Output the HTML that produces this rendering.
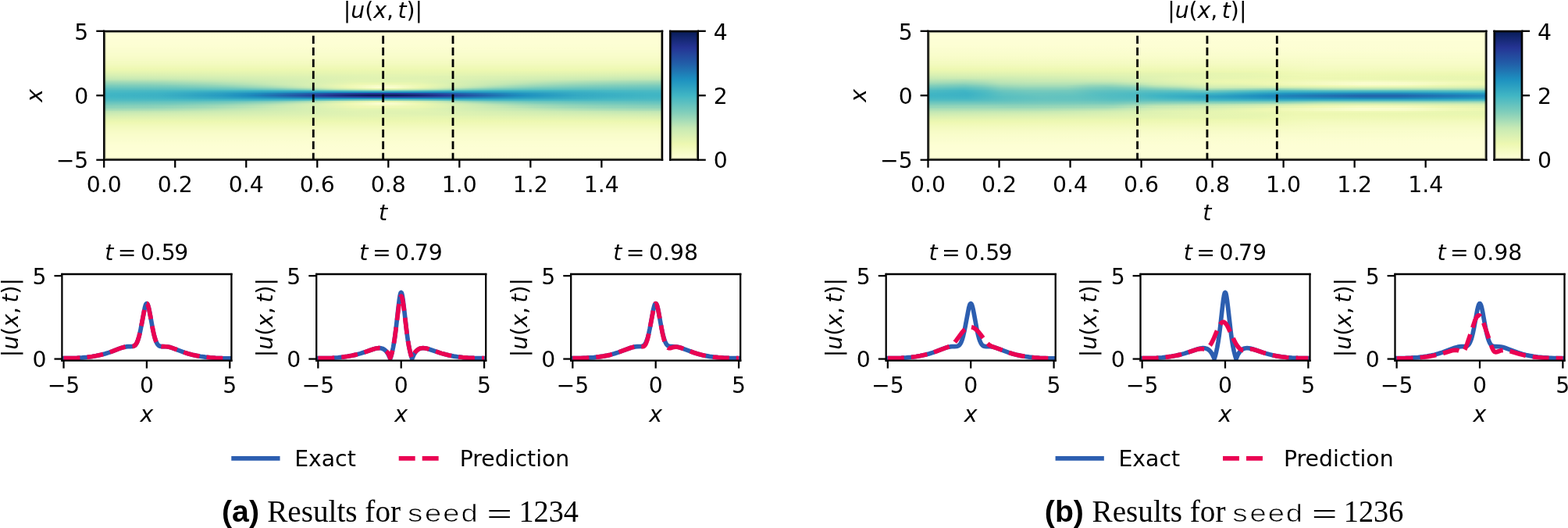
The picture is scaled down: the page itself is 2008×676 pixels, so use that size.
<!DOCTYPE html>
<html><head><meta charset="utf-8"><style>
html,body{margin:0;padding:0;background:#fff;}
body{width:2008px;height:676px;overflow:hidden;}
svg{display:block;}
</style></head><body>
<svg width="2008" height="676" viewBox="0 0 2008 676" version="1.1"><g id="heat"><defs><linearGradient id="h0_0"><stop offset="0" stop-color="#feffd8"/><stop offset="1" stop-color="#fdfed5"/></linearGradient><linearGradient id="h0_1"><stop offset="0" stop-color="#feffd6"/><stop offset="1" stop-color="#fdfed5"/></linearGradient><linearGradient id="h0_5"><stop offset="0" stop-color="#fdfed5"/><stop offset="1" stop-color="#fdfed4"/></linearGradient><linearGradient id="h0_7"><stop offset="0" stop-color="#fdfed4"/><stop offset="1" stop-color="#fdfed4"/></linearGradient><linearGradient id="h0_8"><stop offset="0" stop-color="#fdfed4"/><stop offset="1" stop-color="#fcfed3"/></linearGradient><linearGradient id="h0_9"><stop offset="0" stop-color="#fcfed3"/><stop offset="1" stop-color="#fcfed3"/></linearGradient><linearGradient id="h0_10"><stop offset="0" stop-color="#fcfed1"/><stop offset="1" stop-color="#fcfed1"/></linearGradient><linearGradient id="h0_11"><stop offset="0" stop-color="#fbfdd0"/><stop offset="1" stop-color="#fcfed1"/></linearGradient><linearGradient id="h0_12"><stop offset="0" stop-color="#fafdcf"/><stop offset="1" stop-color="#fafdcf"/></linearGradient><linearGradient id="h0_13"><stop offset="0" stop-color="#fafdce"/><stop offset="1" stop-color="#fafdce"/></linearGradient><linearGradient id="h0_14"><stop offset="0" stop-color="#f9fdcc"/><stop offset="1" stop-color="#f9fdcc"/></linearGradient><linearGradient id="h0_15"><stop offset="0" stop-color="#f9fdcb"/><stop offset="1" stop-color="#f9fdcb"/></linearGradient><linearGradient id="h0_16"><stop offset="0" stop-color="#f8fcc9"/><stop offset="1" stop-color="#f8fcca"/></linearGradient><linearGradient id="h0_17"><stop offset="0" stop-color="#f7fcc7"/><stop offset="1" stop-color="#f7fcc7"/></linearGradient><linearGradient id="h0_18"><stop offset="0" stop-color="#f6fbc5"/><stop offset="1" stop-color="#f6fbc5"/></linearGradient><linearGradient id="h0_19"><stop offset="0" stop-color="#f4fbc1"/><stop offset="1" stop-color="#f5fbc2"/></linearGradient><linearGradient id="h0_20"><stop offset="0" stop-color="#f3fabf"/><stop offset="1" stop-color="#f3fabf"/></linearGradient><linearGradient id="h0_21"><stop offset="0" stop-color="#f1fabb"/><stop offset="1" stop-color="#f1fabb"/></linearGradient><linearGradient id="h0_22"><stop offset="0" stop-color="#f0f9b7"/><stop offset="0.9109" stop-color="#f0f9b8"/><stop offset="1" stop-color="#f0f9b7"/></linearGradient><linearGradient id="h0_23"><stop offset="0" stop-color="#eef8b3"/><stop offset="0.8357" stop-color="#eff9b5"/><stop offset="1" stop-color="#eef8b3"/></linearGradient><linearGradient id="h0_24"><stop offset="0" stop-color="#eaf7b1"/><stop offset="0.7799" stop-color="#edf8b1"/><stop offset="1" stop-color="#eaf7b1"/></linearGradient><linearGradient id="h0_25"><stop offset="0" stop-color="#e5f5b2"/><stop offset="0.6072" stop-color="#eaf7b1"/><stop offset="1" stop-color="#e5f5b2"/></linearGradient><linearGradient id="h0_26"><stop offset="0" stop-color="#dff2b2"/><stop offset="0.5487" stop-color="#e8f6b1"/><stop offset="1" stop-color="#dff2b2"/></linearGradient><linearGradient id="h0_27"><stop offset="0" stop-color="#d9f0b3"/><stop offset="0.3343" stop-color="#e1f3b2"/><stop offset="0.5905" stop-color="#e5f5b2"/><stop offset="0.9777" stop-color="#d9f0b3"/><stop offset="1" stop-color="#d9f0b3"/></linearGradient><linearGradient id="h0_28"><stop offset="0" stop-color="#d1edb3"/><stop offset="0.2646" stop-color="#daf0b3"/><stop offset="0.5153" stop-color="#e3f4b2"/><stop offset="0.9861" stop-color="#d1edb3"/><stop offset="1" stop-color="#d1edb3"/></linearGradient><linearGradient id="h0_29"><stop offset="0" stop-color="#caeab4"/><stop offset="0.2284" stop-color="#d3eeb3"/><stop offset="0.468" stop-color="#e1f3b2"/><stop offset="0.6156" stop-color="#dff2b2"/><stop offset="0.922" stop-color="#cbebb4"/><stop offset="1" stop-color="#caeab4"/></linearGradient><linearGradient id="h0_30"><stop offset="0" stop-color="#c0e6b5"/><stop offset="0.09749" stop-color="#c2e7b4"/><stop offset="0.4596" stop-color="#e1f3b2"/><stop offset="0.5794" stop-color="#e0f3b2"/><stop offset="0.9499" stop-color="#c0e6b5"/><stop offset="1" stop-color="#c0e6b5"/></linearGradient><linearGradient id="h0_31"><stop offset="0" stop-color="#a9ddb7"/><stop offset="0.1142" stop-color="#b0e0b6"/><stop offset="0.2284" stop-color="#c4e8b4"/><stop offset="0.4429" stop-color="#e2f4b2"/><stop offset="0.5655" stop-color="#e2f4b2"/><stop offset="0.7772" stop-color="#c4e8b4"/><stop offset="0.8607" stop-color="#b4e2b6"/><stop offset="0.9471" stop-color="#abdeb7"/><stop offset="1" stop-color="#a9ddb7"/></linearGradient><linearGradient id="h0_32"><stop offset="0" stop-color="#99d7b8"/><stop offset="0.09749" stop-color="#9ed9b8"/><stop offset="0.1894" stop-color="#aedfb6"/><stop offset="0.3008" stop-color="#cbebb4"/><stop offset="0.4568" stop-color="#e8f6b1"/><stop offset="0.5487" stop-color="#e8f6b1"/><stop offset="0.7354" stop-color="#c4e8b4"/><stop offset="0.805" stop-color="#b0e0b6"/><stop offset="0.8802" stop-color="#a2dbb8"/><stop offset="0.9499" stop-color="#9cd8b8"/><stop offset="1" stop-color="#99d7b8"/></linearGradient><linearGradient id="h0_33"><stop offset="0" stop-color="#89d1ba"/><stop offset="0.08635" stop-color="#8cd2ba"/><stop offset="0.1811" stop-color="#9cd8b8"/><stop offset="0.2674" stop-color="#b7e3b6"/><stop offset="0.312" stop-color="#c9eab4"/><stop offset="0.454" stop-color="#eef8b3"/><stop offset="0.507" stop-color="#f0f9b8"/><stop offset="0.571" stop-color="#e9f7b1"/><stop offset="0.7075" stop-color="#c2e7b4"/><stop offset="0.7744" stop-color="#a9ddb7"/><stop offset="0.8357" stop-color="#99d7b8"/><stop offset="0.9109" stop-color="#8ed3ba"/><stop offset="0.9833" stop-color="#89d1ba"/><stop offset="1" stop-color="#89d1ba"/></linearGradient><linearGradient id="h0_34"><stop offset="0" stop-color="#78cbbc"/><stop offset="0.1198" stop-color="#7ecdbb"/><stop offset="0.2061" stop-color="#90d4b9"/><stop offset="0.2674" stop-color="#a7dcb7"/><stop offset="0.3454" stop-color="#cdebb4"/><stop offset="0.4345" stop-color="#eef8b3"/><stop offset="0.4903" stop-color="#f8fcc9"/><stop offset="0.5237" stop-color="#f6fbc5"/><stop offset="0.5766" stop-color="#eaf7b1"/><stop offset="0.6741" stop-color="#c4e8b4"/><stop offset="0.7409" stop-color="#a2dbb8"/><stop offset="0.8162" stop-color="#8cd2ba"/><stop offset="0.8802" stop-color="#80cebb"/><stop offset="0.9638" stop-color="#7acbbc"/><stop offset="1" stop-color="#78cbbc"/></linearGradient><linearGradient id="h0_35"><stop offset="0" stop-color="#6bc6be"/><stop offset="0.1198" stop-color="#6fc7bd"/><stop offset="0.2201" stop-color="#7ecdbb"/><stop offset="0.2981" stop-color="#9ed9b8"/><stop offset="0.351" stop-color="#c0e6b5"/><stop offset="0.39" stop-color="#d4eeb3"/><stop offset="0.4401" stop-color="#edf8b2"/><stop offset="0.4958" stop-color="#fcfed1"/><stop offset="0.5181" stop-color="#f9fdcb"/><stop offset="0.5655" stop-color="#ecf7b1"/><stop offset="0.649" stop-color="#c0e6b5"/><stop offset="0.6964" stop-color="#a0dab8"/><stop offset="0.7744" stop-color="#80cebb"/><stop offset="0.8552" stop-color="#73c8bd"/><stop offset="0.9499" stop-color="#6dc6be"/><stop offset="1" stop-color="#6bc6be"/></linearGradient><linearGradient id="h0_36"><stop offset="0" stop-color="#5dc0c0"/><stop offset="0.1671" stop-color="#61c2bf"/><stop offset="0.2507" stop-color="#6dc6be"/><stop offset="0.3148" stop-color="#83cebb"/><stop offset="0.3677" stop-color="#a5dcb7"/><stop offset="0.4123" stop-color="#c9eab4"/><stop offset="0.4847" stop-color="#e8f6b1"/><stop offset="0.5237" stop-color="#e6f5b2"/><stop offset="0.5933" stop-color="#c6e9b4"/><stop offset="0.6602" stop-color="#90d4b9"/><stop offset="0.6992" stop-color="#7cccbb"/><stop offset="0.7604" stop-color="#6bc6be"/><stop offset="0.8524" stop-color="#61c2bf"/><stop offset="1" stop-color="#5fc1c0"/></linearGradient><linearGradient id="h0_37"><stop offset="0" stop-color="#50bbc2"/><stop offset="0.1253" stop-color="#4cbac2"/><stop offset="0.2786" stop-color="#42b6c4"/><stop offset="0.3426" stop-color="#4ab9c3"/><stop offset="0.4039" stop-color="#5fc1c0"/><stop offset="0.4708" stop-color="#7acbbc"/><stop offset="0.507" stop-color="#7ecdbb"/><stop offset="0.5487" stop-color="#75c9bd"/><stop offset="0.6379" stop-color="#50bbc2"/><stop offset="0.6992" stop-color="#44b7c4"/><stop offset="0.7939" stop-color="#44b7c4"/><stop offset="0.9666" stop-color="#50bbc2"/><stop offset="1" stop-color="#50bbc2"/></linearGradient><linearGradient id="h0_38"><stop offset="0" stop-color="#48b9c3"/><stop offset="0.1031" stop-color="#42b6c4"/><stop offset="0.2618" stop-color="#2da2c2"/><stop offset="0.3872" stop-color="#1d90c0"/><stop offset="0.6156" stop-color="#1d90c0"/><stop offset="0.7688" stop-color="#32a6c2"/><stop offset="0.9081" stop-color="#42b6c4"/><stop offset="1" stop-color="#48b9c3"/></linearGradient><linearGradient id="h0_39"><stop offset="0" stop-color="#42b6c4"/><stop offset="0.1031" stop-color="#3db2c4"/><stop offset="0.2089" stop-color="#2b9fc2"/><stop offset="0.2702" stop-color="#1d8dbe"/><stop offset="0.4206" stop-color="#24439b"/><stop offset="0.4763" stop-color="#243392"/><stop offset="0.5237" stop-color="#243392"/><stop offset="0.5794" stop-color="#24439b"/><stop offset="0.6685" stop-color="#206eb0"/><stop offset="0.7437" stop-color="#1f93c0"/><stop offset="0.8468" stop-color="#36abc3"/><stop offset="0.9721" stop-color="#42b6c4"/><stop offset="1" stop-color="#42b6c4"/></linearGradient><linearGradient id="h0_40"><stop offset="0" stop-color="#40b5c4"/><stop offset="0.1003" stop-color="#3cb1c3"/><stop offset="0.2117" stop-color="#269bc1"/><stop offset="0.2535" stop-color="#1d8dbe"/><stop offset="0.3593" stop-color="#234c9f"/><stop offset="0.3983" stop-color="#243392"/><stop offset="0.4429" stop-color="#12256d"/><stop offset="0.4735" stop-color="#0a1e5c"/><stop offset="0.5042" stop-color="#081d58"/><stop offset="0.5265" stop-color="#0a1e5c"/><stop offset="0.5655" stop-color="#152772"/><stop offset="0.6072" stop-color="#253595"/><stop offset="0.7326" stop-color="#1e85ba"/><stop offset="0.766" stop-color="#2094c0"/><stop offset="0.8552" stop-color="#35aac3"/><stop offset="0.9721" stop-color="#40b5c4"/><stop offset="1" stop-color="#40b5c4"/></linearGradient></defs><rect x="133.20" y="40" width="714.90" height="2" fill="url(#h0_0)"/><rect x="133.20" y="42" width="714.90" height="2" fill="url(#h0_1)"/><rect x="133.20" y="44" width="714.90" height="2" fill="url(#h0_1)"/><rect x="133.20" y="46" width="714.90" height="2" fill="url(#h0_1)"/><rect x="133.20" y="48" width="714.90" height="2" fill="url(#h0_1)"/><rect x="133.20" y="50" width="714.90" height="2" fill="url(#h0_5)"/><rect x="133.20" y="52" width="714.90" height="2" fill="url(#h0_5)"/><rect x="133.20" y="54" width="714.90" height="2" fill="url(#h0_7)"/><rect x="133.20" y="56" width="714.90" height="2" fill="url(#h0_8)"/><rect x="133.20" y="58" width="714.90" height="2" fill="url(#h0_9)"/><rect x="133.20" y="60" width="714.90" height="2" fill="url(#h0_10)"/><rect x="133.20" y="62" width="714.90" height="2" fill="url(#h0_11)"/><rect x="133.20" y="64" width="714.90" height="2" fill="url(#h0_12)"/><rect x="133.20" y="66" width="714.90" height="2" fill="url(#h0_13)"/><rect x="133.20" y="68" width="714.90" height="2" fill="url(#h0_14)"/><rect x="133.20" y="70" width="714.90" height="2" fill="url(#h0_15)"/><rect x="133.20" y="72" width="714.90" height="2" fill="url(#h0_16)"/><rect x="133.20" y="74" width="714.90" height="2" fill="url(#h0_17)"/><rect x="133.20" y="76" width="714.90" height="2" fill="url(#h0_18)"/><rect x="133.20" y="78" width="714.90" height="3" fill="url(#h0_19)"/><rect x="133.20" y="81" width="714.90" height="2" fill="url(#h0_20)"/><rect x="133.20" y="83" width="714.90" height="2" fill="url(#h0_21)"/><rect x="133.20" y="85" width="714.90" height="2" fill="url(#h0_22)"/><rect x="133.20" y="87" width="714.90" height="2" fill="url(#h0_23)"/><rect x="133.20" y="89" width="714.90" height="2" fill="url(#h0_24)"/><rect x="133.20" y="91" width="714.90" height="2" fill="url(#h0_25)"/><rect x="133.20" y="93" width="714.90" height="2" fill="url(#h0_26)"/><rect x="133.20" y="95" width="714.90" height="2" fill="url(#h0_27)"/><rect x="133.20" y="97" width="714.90" height="2" fill="url(#h0_28)"/><rect x="133.20" y="99" width="714.90" height="2" fill="url(#h0_29)"/><rect x="133.20" y="101" width="714.90" height="2" fill="url(#h0_30)"/><rect x="133.20" y="103" width="714.90" height="2" fill="url(#h0_31)"/><rect x="133.20" y="105" width="714.90" height="2" fill="url(#h0_32)"/><rect x="133.20" y="107" width="714.90" height="2" fill="url(#h0_33)"/><rect x="133.20" y="109" width="714.90" height="2" fill="url(#h0_34)"/><rect x="133.20" y="111" width="714.90" height="2" fill="url(#h0_35)"/><rect x="133.20" y="113" width="714.90" height="2" fill="url(#h0_36)"/><rect x="133.20" y="115" width="714.90" height="2" fill="url(#h0_37)"/><rect x="133.20" y="117" width="714.90" height="2" fill="url(#h0_38)"/><rect x="133.20" y="119" width="714.90" height="2" fill="url(#h0_39)"/><rect x="133.20" y="121" width="714.90" height="2" fill="url(#h0_40)"/><rect x="133.20" y="123" width="714.90" height="2" fill="url(#h0_39)"/><rect x="133.20" y="125" width="714.90" height="2" fill="url(#h0_38)"/><rect x="133.20" y="127" width="714.90" height="2" fill="url(#h0_37)"/><rect x="133.20" y="129" width="714.90" height="2" fill="url(#h0_36)"/><rect x="133.20" y="131" width="714.90" height="2" fill="url(#h0_35)"/><rect x="133.20" y="133" width="714.90" height="2" fill="url(#h0_34)"/><rect x="133.20" y="135" width="714.90" height="3" fill="url(#h0_33)"/><rect x="133.20" y="138" width="714.90" height="2" fill="url(#h0_32)"/><rect x="133.20" y="140" width="714.90" height="2" fill="url(#h0_31)"/><rect x="133.20" y="142" width="714.90" height="2" fill="url(#h0_30)"/><rect x="133.20" y="144" width="714.90" height="2" fill="url(#h0_29)"/><rect x="133.20" y="146" width="714.90" height="2" fill="url(#h0_28)"/><rect x="133.20" y="148" width="714.90" height="2" fill="url(#h0_27)"/><rect x="133.20" y="150" width="714.90" height="2" fill="url(#h0_26)"/><rect x="133.20" y="152" width="714.90" height="2" fill="url(#h0_25)"/><rect x="133.20" y="154" width="714.90" height="2" fill="url(#h0_24)"/><rect x="133.20" y="156" width="714.90" height="2" fill="url(#h0_23)"/><rect x="133.20" y="158" width="714.90" height="2" fill="url(#h0_22)"/><rect x="133.20" y="160" width="714.90" height="2" fill="url(#h0_21)"/><rect x="133.20" y="162" width="714.90" height="2" fill="url(#h0_20)"/><rect x="133.20" y="164" width="714.90" height="2" fill="url(#h0_19)"/><rect x="133.20" y="166" width="714.90" height="2" fill="url(#h0_18)"/><rect x="133.20" y="168" width="714.90" height="2" fill="url(#h0_17)"/><rect x="133.20" y="170" width="714.90" height="2" fill="url(#h0_16)"/><rect x="133.20" y="172" width="714.90" height="2" fill="url(#h0_15)"/><rect x="133.20" y="174" width="714.90" height="2" fill="url(#h0_14)"/><rect x="133.20" y="176" width="714.90" height="2" fill="url(#h0_13)"/><rect x="133.20" y="178" width="714.90" height="2" fill="url(#h0_12)"/><rect x="133.20" y="180" width="714.90" height="2" fill="url(#h0_11)"/><rect x="133.20" y="182" width="714.90" height="2" fill="url(#h0_10)"/><rect x="133.20" y="184" width="714.90" height="2" fill="url(#h0_9)"/><rect x="133.20" y="186" width="714.90" height="2" fill="url(#h0_8)"/><rect x="133.20" y="188" width="714.90" height="2" fill="url(#h0_7)"/><rect x="133.20" y="190" width="714.90" height="2" fill="url(#h0_5)"/><rect x="133.20" y="192" width="714.90" height="3" fill="url(#h0_5)"/><rect x="133.20" y="195" width="714.90" height="2" fill="url(#h0_1)"/><rect x="133.20" y="197" width="714.90" height="2" fill="url(#h0_1)"/><rect x="133.20" y="199" width="714.90" height="2" fill="url(#h0_1)"/><rect x="133.20" y="201" width="714.90" height="2" fill="url(#h0_1)"/><rect x="133.20" y="203" width="714.90" height="2" fill="url(#h0_0)"/><rect x="134.75" y="41.35" width="711.80" height="161.80" fill="none" stroke="#000" stroke-opacity="0.42" stroke-width="1.20"/><defs><linearGradient id="cb0" x1="0" y1="0" x2="0" y2="1"><stop offset="0" stop-color="#081d58"/><stop offset="0.01562" stop-color="#0b1f5e"/><stop offset="0.03125" stop-color="#0e2265"/><stop offset="0.04688" stop-color="#12256d"/><stop offset="0.0625" stop-color="#162874"/><stop offset="0.07812" stop-color="#192b7c"/><stop offset="0.09375" stop-color="#1d2e83"/><stop offset="0.1094" stop-color="#21308b"/><stop offset="0.125" stop-color="#243392"/><stop offset="0.1406" stop-color="#253896"/><stop offset="0.1562" stop-color="#243d98"/><stop offset="0.1719" stop-color="#24439b"/><stop offset="0.1875" stop-color="#24489d"/><stop offset="0.2031" stop-color="#234da0"/><stop offset="0.2188" stop-color="#2352a3"/><stop offset="0.2344" stop-color="#2258a5"/><stop offset="0.25" stop-color="#225da8"/><stop offset="0.2656" stop-color="#2163aa"/><stop offset="0.2812" stop-color="#216aad"/><stop offset="0.2969" stop-color="#2070b0"/><stop offset="0.3125" stop-color="#2076b3"/><stop offset="0.3281" stop-color="#1f7db6"/><stop offset="0.3438" stop-color="#1e83ba"/><stop offset="0.3594" stop-color="#1e8abd"/><stop offset="0.375" stop-color="#1d90c0"/><stop offset="0.3906" stop-color="#2195c0"/><stop offset="0.4062" stop-color="#259ac1"/><stop offset="0.4219" stop-color="#2a9ec1"/><stop offset="0.4375" stop-color="#2ea3c2"/><stop offset="0.4531" stop-color="#33a7c2"/><stop offset="0.4688" stop-color="#37acc3"/><stop offset="0.4844" stop-color="#3cb1c3"/><stop offset="0.5" stop-color="#40b5c4"/><stop offset="0.5156" stop-color="#48b9c3"/><stop offset="0.5312" stop-color="#50bbc2"/><stop offset="0.5469" stop-color="#57bec1"/><stop offset="0.5625" stop-color="#5fc1c0"/><stop offset="0.5781" stop-color="#67c4be"/><stop offset="0.5938" stop-color="#6fc7bd"/><stop offset="0.6094" stop-color="#76cabc"/><stop offset="0.625" stop-color="#7ecdbb"/><stop offset="0.6406" stop-color="#87d0ba"/><stop offset="0.6562" stop-color="#90d4b9"/><stop offset="0.6719" stop-color="#99d7b8"/><stop offset="0.6875" stop-color="#a2dbb8"/><stop offset="0.7031" stop-color="#abdeb7"/><stop offset="0.7188" stop-color="#b4e2b6"/><stop offset="0.7344" stop-color="#bde5b5"/><stop offset="0.75" stop-color="#c6e9b4"/><stop offset="0.7656" stop-color="#cbebb4"/><stop offset="0.7812" stop-color="#d0edb3"/><stop offset="0.7969" stop-color="#d5efb3"/><stop offset="0.8125" stop-color="#daf0b3"/><stop offset="0.8281" stop-color="#dff2b2"/><stop offset="0.8438" stop-color="#e3f4b2"/><stop offset="0.8594" stop-color="#e8f6b1"/><stop offset="0.875" stop-color="#edf8b1"/><stop offset="0.8906" stop-color="#eff9b6"/><stop offset="0.9062" stop-color="#f1fabb"/><stop offset="0.9219" stop-color="#f4fbc0"/><stop offset="0.9375" stop-color="#f6fbc5"/><stop offset="0.9531" stop-color="#f8fcca"/><stop offset="0.9688" stop-color="#fafdcf"/><stop offset="0.9844" stop-color="#fdfed4"/><stop offset="1" stop-color="#ffffd9"/></linearGradient></defs><rect x="858.20" y="39.80" width="35.70" height="164.90" fill="url(#cb0)"/><rect x="859.75" y="41.35" width="32.60" height="161.80" fill="none" stroke="#000" stroke-opacity="0.42" stroke-width="1.20"/><defs><linearGradient id="h1_0"><stop offset="0" stop-color="#feffd8"/><stop offset="1" stop-color="#feffd6"/></linearGradient><linearGradient id="h1_1"><stop offset="0" stop-color="#feffd6"/><stop offset="1" stop-color="#feffd6"/></linearGradient><linearGradient id="h1_5"><stop offset="0" stop-color="#fdfed5"/><stop offset="1" stop-color="#feffd6"/></linearGradient><linearGradient id="h1_6"><stop offset="0" stop-color="#fdfed5"/><stop offset="1" stop-color="#fdfed5"/></linearGradient><linearGradient id="h1_7"><stop offset="0" stop-color="#fdfed4"/><stop offset="1" stop-color="#fdfed5"/></linearGradient><linearGradient id="h1_9"><stop offset="0" stop-color="#fcfed3"/><stop offset="1" stop-color="#fdfed5"/></linearGradient><linearGradient id="h1_10"><stop offset="0" stop-color="#fcfed1"/><stop offset="1" stop-color="#fdfed4"/></linearGradient><linearGradient id="h1_11"><stop offset="0" stop-color="#fbfdd0"/><stop offset="1" stop-color="#fdfed4"/></linearGradient><linearGradient id="h1_12"><stop offset="0" stop-color="#fafdcf"/><stop offset="1" stop-color="#fcfed3"/></linearGradient><linearGradient id="h1_13"><stop offset="0" stop-color="#fafdce"/><stop offset="1" stop-color="#fcfed1"/></linearGradient><linearGradient id="h1_14"><stop offset="0" stop-color="#f9fdcc"/><stop offset="0.6351" stop-color="#fafdcf"/><stop offset="1" stop-color="#fbfdd0"/></linearGradient><linearGradient id="h1_15"><stop offset="0" stop-color="#f9fdcb"/><stop offset="0.6351" stop-color="#fafdce"/><stop offset="1" stop-color="#fafdcf"/></linearGradient><linearGradient id="h1_16"><stop offset="0" stop-color="#f8fcc9"/><stop offset="0.6407" stop-color="#f9fdcc"/><stop offset="1" stop-color="#fafdce"/></linearGradient><linearGradient id="h1_17"><stop offset="0" stop-color="#f7fcc7"/><stop offset="0.624" stop-color="#f8fcca"/><stop offset="1" stop-color="#f9fdcc"/></linearGradient><linearGradient id="h1_18"><stop offset="0" stop-color="#f6fbc5"/><stop offset="0.6128" stop-color="#f7fcc7"/><stop offset="0.7354" stop-color="#f9fdcb"/><stop offset="1" stop-color="#f9fdcb"/></linearGradient><linearGradient id="h1_19"><stop offset="0" stop-color="#f4fbc1"/><stop offset="0.6184" stop-color="#f6fbc5"/><stop offset="0.7242" stop-color="#f8fcc9"/><stop offset="1" stop-color="#f8fcc9"/></linearGradient><linearGradient id="h1_20"><stop offset="0" stop-color="#f3fabf"/><stop offset="0.6156" stop-color="#f5fbc2"/><stop offset="0.7131" stop-color="#f7fcc7"/><stop offset="1" stop-color="#f7fcc7"/></linearGradient><linearGradient id="h1_21"><stop offset="0" stop-color="#f1fabb"/><stop offset="0.6017" stop-color="#f3fabf"/><stop offset="0.6964" stop-color="#f6fbc5"/><stop offset="1" stop-color="#f6fbc5"/></linearGradient><linearGradient id="h1_22"><stop offset="0" stop-color="#f0f9b7"/><stop offset="0.6072" stop-color="#f2fabc"/><stop offset="0.6936" stop-color="#f5fbc2"/><stop offset="1" stop-color="#f5fbc2"/></linearGradient><linearGradient id="h1_23"><stop offset="0" stop-color="#eef8b3"/><stop offset="0.5989" stop-color="#f0f9b8"/><stop offset="0.688" stop-color="#f4fbc0"/><stop offset="1" stop-color="#f3fabf"/></linearGradient><linearGradient id="h1_24"><stop offset="0" stop-color="#eaf7b1"/><stop offset="0.5933" stop-color="#eff9b5"/><stop offset="0.6852" stop-color="#f3fabd"/><stop offset="1" stop-color="#f2fabc"/></linearGradient><linearGradient id="h1_25"><stop offset="0" stop-color="#e5f5b2"/><stop offset="0.5961" stop-color="#edf8b1"/><stop offset="0.6852" stop-color="#f1faba"/><stop offset="1" stop-color="#f0f9b7"/></linearGradient><linearGradient id="h1_26"><stop offset="0" stop-color="#dff2b2"/><stop offset="0.571" stop-color="#e8f6b1"/><stop offset="0.6379" stop-color="#eef8b3"/><stop offset="0.7019" stop-color="#f0f9b7"/><stop offset="1" stop-color="#eef8b3"/></linearGradient><linearGradient id="h1_27"><stop offset="0" stop-color="#d9f0b3"/><stop offset="0.3649" stop-color="#e2f4b2"/><stop offset="0.546" stop-color="#e7f6b1"/><stop offset="0.6045" stop-color="#e9f7b1"/><stop offset="0.663" stop-color="#eff9b5"/><stop offset="1" stop-color="#ecf7b1"/></linearGradient><linearGradient id="h1_28"><stop offset="0" stop-color="#d1edb3"/><stop offset="0.3287" stop-color="#dcf1b2"/><stop offset="0.4875" stop-color="#e6f5b2"/><stop offset="0.6017" stop-color="#e8f6b1"/><stop offset="0.6936" stop-color="#eff9b5"/><stop offset="0.9359" stop-color="#e9f7b1"/><stop offset="1" stop-color="#e9f7b1"/></linearGradient><linearGradient id="h1_29"><stop offset="0" stop-color="#caeab4"/><stop offset="0.1253" stop-color="#ceecb3"/><stop offset="0.351" stop-color="#daf0b3"/><stop offset="0.4513" stop-color="#e5f5b2"/><stop offset="0.5543" stop-color="#e7f6b1"/><stop offset="0.6602" stop-color="#eef8b3"/><stop offset="1" stop-color="#e8f6b1"/></linearGradient><linearGradient id="h1_30"><stop offset="0" stop-color="#c0e6b5"/><stop offset="0.06407" stop-color="#bbe4b5"/><stop offset="0.1421" stop-color="#c9eab4"/><stop offset="0.3287" stop-color="#d1edb3"/><stop offset="0.4345" stop-color="#e3f4b2"/><stop offset="0.532" stop-color="#eaf7b1"/><stop offset="0.61" stop-color="#ecf7b1"/><stop offset="0.688" stop-color="#eff9b6"/><stop offset="0.9889" stop-color="#e8f6b1"/><stop offset="1" stop-color="#e8f6b1"/></linearGradient><linearGradient id="h1_31"><stop offset="0" stop-color="#b2e1b6"/><stop offset="0.06964" stop-color="#abdeb7"/><stop offset="0.1086" stop-color="#b7e3b6"/><stop offset="0.1309" stop-color="#c0e6b5"/><stop offset="0.2006" stop-color="#c8e9b4"/><stop offset="0.2841" stop-color="#c6e9b4"/><stop offset="0.3259" stop-color="#c8e9b4"/><stop offset="0.3928" stop-color="#d9f0b3"/><stop offset="0.5125" stop-color="#ecf7b1"/><stop offset="0.6072" stop-color="#eef8b3"/><stop offset="0.7159" stop-color="#f3fabf"/><stop offset="0.8078" stop-color="#f4fbc1"/><stop offset="0.9081" stop-color="#f0f9b8"/><stop offset="1" stop-color="#edf8b1"/></linearGradient><linearGradient id="h1_32"><stop offset="0" stop-color="#a5dcb7"/><stop offset="0.06685" stop-color="#9cd8b8"/><stop offset="0.1003" stop-color="#a7dcb7"/><stop offset="0.1281" stop-color="#b7e3b6"/><stop offset="0.1755" stop-color="#bde5b5"/><stop offset="0.2646" stop-color="#bde5b5"/><stop offset="0.2953" stop-color="#b7e3b6"/><stop offset="0.3315" stop-color="#b9e4b5"/><stop offset="0.4095" stop-color="#d6efb3"/><stop offset="0.5097" stop-color="#e9f7b1"/><stop offset="0.5961" stop-color="#eef8b3"/><stop offset="0.7799" stop-color="#fafdce"/><stop offset="0.8552" stop-color="#f8fcca"/><stop offset="0.9499" stop-color="#f1faba"/><stop offset="1" stop-color="#eef8b3"/></linearGradient><linearGradient id="h1_33"><stop offset="0" stop-color="#92d5b9"/><stop offset="0.06407" stop-color="#87d0ba"/><stop offset="0.1003" stop-color="#97d6b9"/><stop offset="0.1309" stop-color="#abdeb7"/><stop offset="0.1783" stop-color="#b2e1b6"/><stop offset="0.2563" stop-color="#b2e1b6"/><stop offset="0.2925" stop-color="#a5dcb7"/><stop offset="0.3287" stop-color="#a5dcb7"/><stop offset="0.376" stop-color="#b9e4b5"/><stop offset="0.4039" stop-color="#cbebb4"/><stop offset="0.4819" stop-color="#ddf2b2"/><stop offset="0.5097" stop-color="#e3f4b2"/><stop offset="0.5571" stop-color="#e5f5b2"/><stop offset="0.6212" stop-color="#eef8b3"/><stop offset="0.7716" stop-color="#fafdce"/><stop offset="0.8524" stop-color="#f9fdcb"/><stop offset="0.9471" stop-color="#f0f9b7"/><stop offset="1" stop-color="#edf8b1"/></linearGradient><linearGradient id="h1_34"><stop offset="0" stop-color="#80cebb"/><stop offset="0.06685" stop-color="#75c9bd"/><stop offset="0.09749" stop-color="#83cebb"/><stop offset="0.1309" stop-color="#9cd8b8"/><stop offset="0.1755" stop-color="#a5dcb7"/><stop offset="0.2451" stop-color="#a5dcb7"/><stop offset="0.2841" stop-color="#95d5b9"/><stop offset="0.3175" stop-color="#8ed3ba"/><stop offset="0.3733" stop-color="#a0dab8"/><stop offset="0.4067" stop-color="#b9e4b5"/><stop offset="0.507" stop-color="#daf0b3"/><stop offset="0.5627" stop-color="#daf0b3"/><stop offset="0.7075" stop-color="#eef8b3"/><stop offset="0.7799" stop-color="#f3fabd"/><stop offset="0.8579" stop-color="#f1faba"/><stop offset="0.9136" stop-color="#eaf7b1"/><stop offset="1" stop-color="#e2f4b2"/></linearGradient><linearGradient id="h1_35"><stop offset="0" stop-color="#71c8bd"/><stop offset="0.06685" stop-color="#63c3bf"/><stop offset="0.1003" stop-color="#73c8bd"/><stop offset="0.1309" stop-color="#8cd2ba"/><stop offset="0.1671" stop-color="#95d5b9"/><stop offset="0.2535" stop-color="#95d5b9"/><stop offset="0.2897" stop-color="#83cebb"/><stop offset="0.3231" stop-color="#7cccbb"/><stop offset="0.3733" stop-color="#89d1ba"/><stop offset="0.4067" stop-color="#9ed9b8"/><stop offset="0.4513" stop-color="#aedfb6"/><stop offset="0.5042" stop-color="#cdebb4"/><stop offset="0.6045" stop-color="#c9eab4"/><stop offset="0.6602" stop-color="#ceecb3"/><stop offset="0.7437" stop-color="#daf0b3"/><stop offset="0.8635" stop-color="#daf0b3"/><stop offset="1" stop-color="#d1edb3"/></linearGradient><linearGradient id="h1_36"><stop offset="0" stop-color="#61c2bf"/><stop offset="0.06407" stop-color="#53bdc1"/><stop offset="0.1031" stop-color="#67c4be"/><stop offset="0.1281" stop-color="#7cccbb"/><stop offset="0.1727" stop-color="#87d0ba"/><stop offset="0.2479" stop-color="#87d0ba"/><stop offset="0.2925" stop-color="#75c9bd"/><stop offset="0.3287" stop-color="#6fc7bd"/><stop offset="0.3844" stop-color="#78cbbc"/><stop offset="0.4095" stop-color="#83cebb"/><stop offset="0.4513" stop-color="#8ed3ba"/><stop offset="0.493" stop-color="#a9ddb7"/><stop offset="0.5042" stop-color="#b0e0b6"/><stop offset="0.624" stop-color="#97d6b9"/><stop offset="0.7075" stop-color="#aedfb6"/><stop offset="0.7855" stop-color="#b4e2b6"/><stop offset="0.9638" stop-color="#b0e0b6"/><stop offset="1" stop-color="#b0e0b6"/></linearGradient><linearGradient id="h1_37"><stop offset="0" stop-color="#50bbc2"/><stop offset="0.06407" stop-color="#44b7c4"/><stop offset="0.1031" stop-color="#57bec1"/><stop offset="0.1281" stop-color="#6dc6be"/><stop offset="0.1671" stop-color="#76cabc"/><stop offset="0.2089" stop-color="#7acbbc"/><stop offset="0.2563" stop-color="#76cabc"/><stop offset="0.2925" stop-color="#67c4be"/><stop offset="0.3287" stop-color="#61c2bf"/><stop offset="0.3983" stop-color="#63c3bf"/><stop offset="0.4596" stop-color="#6bc6be"/><stop offset="0.507" stop-color="#7ecdbb"/><stop offset="0.6267" stop-color="#59bfc0"/><stop offset="0.7187" stop-color="#63c3bf"/><stop offset="0.8914" stop-color="#63c3bf"/><stop offset="1" stop-color="#6fc7bd"/></linearGradient><linearGradient id="h1_38"><stop offset="0" stop-color="#48b9c3"/><stop offset="0.06685" stop-color="#3fb4c4"/><stop offset="0.1003" stop-color="#4ebbc2"/><stop offset="0.1365" stop-color="#67c4be"/><stop offset="0.1866" stop-color="#71c8bd"/><stop offset="0.2563" stop-color="#6fc7bd"/><stop offset="0.3008" stop-color="#5dc0c0"/><stop offset="0.3538" stop-color="#57bec1"/><stop offset="0.454" stop-color="#52bcc2"/><stop offset="0.507" stop-color="#5dc0c0"/><stop offset="0.5877" stop-color="#3eb3c4"/><stop offset="0.6379" stop-color="#36abc3"/><stop offset="0.8468" stop-color="#32a6c2"/><stop offset="1" stop-color="#3eb3c4"/></linearGradient><linearGradient id="h1_39"><stop offset="0" stop-color="#42b6c4"/><stop offset="0.06964" stop-color="#3db2c4"/><stop offset="0.1003" stop-color="#4ab9c3"/><stop offset="0.1337" stop-color="#5fc1c0"/><stop offset="0.1783" stop-color="#69c5be"/><stop offset="0.2563" stop-color="#69c5be"/><stop offset="0.3064" stop-color="#57bec1"/><stop offset="0.3844" stop-color="#4cbac2"/><stop offset="0.4401" stop-color="#42b6c4"/><stop offset="0.5153" stop-color="#3eb3c4"/><stop offset="0.6407" stop-color="#2094c0"/><stop offset="0.7855" stop-color="#1f82b9"/><stop offset="0.8412" stop-color="#1f82b9"/><stop offset="0.9554" stop-color="#2094c0"/><stop offset="1" stop-color="#259ac1"/></linearGradient><linearGradient id="h1_40"><stop offset="0" stop-color="#40b5c4"/><stop offset="0.06964" stop-color="#3db2c4"/><stop offset="0.1003" stop-color="#48b9c3"/><stop offset="0.1337" stop-color="#5bc0c0"/><stop offset="0.2006" stop-color="#67c4be"/><stop offset="0.2618" stop-color="#63c3bf"/><stop offset="0.3064" stop-color="#55bec1"/><stop offset="0.3788" stop-color="#4ab9c3"/><stop offset="0.415" stop-color="#3fb4c4"/><stop offset="0.5153" stop-color="#32a6c2"/><stop offset="0.6045" stop-color="#1d8ebf"/><stop offset="0.6657" stop-color="#1f7db6"/><stop offset="0.7716" stop-color="#2168ad"/><stop offset="0.8468" stop-color="#2168ad"/><stop offset="0.9415" stop-color="#1f7bb6"/><stop offset="1" stop-color="#1e88bc"/></linearGradient><linearGradient id="h1_41"><stop offset="0" stop-color="#42b6c4"/><stop offset="0.06964" stop-color="#3fb4c4"/><stop offset="0.1058" stop-color="#4cbac2"/><stop offset="0.1365" stop-color="#59bfc0"/><stop offset="0.2033" stop-color="#65c3bf"/><stop offset="0.2646" stop-color="#61c2bf"/><stop offset="0.3287" stop-color="#52bcc2"/><stop offset="0.3788" stop-color="#4cbac2"/><stop offset="0.4123" stop-color="#40b5c4"/><stop offset="0.5738" stop-color="#2195c0"/><stop offset="0.6184" stop-color="#1e88bc"/><stop offset="0.7744" stop-color="#216aad"/><stop offset="0.8412" stop-color="#216aad"/><stop offset="0.9331" stop-color="#1f7bb6"/><stop offset="1" stop-color="#1e8bbd"/></linearGradient><linearGradient id="h1_42"><stop offset="0" stop-color="#48b9c3"/><stop offset="0.06964" stop-color="#44b7c4"/><stop offset="0.1393" stop-color="#5bc0c0"/><stop offset="0.2089" stop-color="#65c3bf"/><stop offset="0.2618" stop-color="#63c3bf"/><stop offset="0.3287" stop-color="#55bec1"/><stop offset="0.3816" stop-color="#52bcc2"/><stop offset="0.415" stop-color="#48b9c3"/><stop offset="0.4708" stop-color="#3cb1c3"/><stop offset="0.624" stop-color="#2296c1"/><stop offset="0.7354" stop-color="#1d8dbe"/><stop offset="0.7911" stop-color="#1e88bc"/><stop offset="0.844" stop-color="#1e88bc"/><stop offset="0.9304" stop-color="#2094c0"/><stop offset="1" stop-color="#299dc1"/></linearGradient><linearGradient id="h1_43"><stop offset="0" stop-color="#50bbc2"/><stop offset="0.07521" stop-color="#50bbc2"/><stop offset="0.1532" stop-color="#61c2bf"/><stop offset="0.2061" stop-color="#67c4be"/><stop offset="0.273" stop-color="#65c3bf"/><stop offset="0.3315" stop-color="#5bc0c0"/><stop offset="0.39" stop-color="#5bc0c0"/><stop offset="0.4568" stop-color="#50bbc2"/><stop offset="0.5097" stop-color="#40b5c4"/><stop offset="0.6407" stop-color="#37acc3"/><stop offset="0.7298" stop-color="#3aaec3"/><stop offset="0.8942" stop-color="#3aaec3"/><stop offset="1" stop-color="#44b7c4"/></linearGradient><linearGradient id="h1_44"><stop offset="0" stop-color="#61c2bf"/><stop offset="0.07799" stop-color="#61c2bf"/><stop offset="0.1978" stop-color="#6fc7bd"/><stop offset="0.2786" stop-color="#6fc7bd"/><stop offset="0.3315" stop-color="#69c5be"/><stop offset="0.4011" stop-color="#73c8bd"/><stop offset="0.4624" stop-color="#71c8bd"/><stop offset="0.5237" stop-color="#6bc6be"/><stop offset="0.6379" stop-color="#6dc6be"/><stop offset="0.7075" stop-color="#7ecdbb"/><stop offset="0.9415" stop-color="#83cebb"/><stop offset="1" stop-color="#87d0ba"/></linearGradient><linearGradient id="h1_45"><stop offset="0" stop-color="#71c8bd"/><stop offset="0.1226" stop-color="#73c8bd"/><stop offset="0.2451" stop-color="#7acbbc"/><stop offset="0.3259" stop-color="#76cabc"/><stop offset="0.3733" stop-color="#83cebb"/><stop offset="0.4123" stop-color="#8ed3ba"/><stop offset="0.5515" stop-color="#92d5b9"/><stop offset="0.6267" stop-color="#9cd8b8"/><stop offset="0.7075" stop-color="#b9e4b5"/><stop offset="0.7772" stop-color="#c0e6b5"/><stop offset="0.9526" stop-color="#b9e4b5"/><stop offset="1" stop-color="#b9e4b5"/></linearGradient><linearGradient id="h1_46"><stop offset="0" stop-color="#80cebb"/><stop offset="0.08635" stop-color="#83cebb"/><stop offset="0.1866" stop-color="#85cfba"/><stop offset="0.2925" stop-color="#89d1ba"/><stop offset="0.3315" stop-color="#89d1ba"/><stop offset="0.3983" stop-color="#a7dcb7"/><stop offset="0.4596" stop-color="#b0e0b6"/><stop offset="0.5265" stop-color="#b9e4b5"/><stop offset="0.571" stop-color="#c0e6b5"/><stop offset="0.7159" stop-color="#dcf1b2"/><stop offset="0.8022" stop-color="#e1f3b2"/><stop offset="0.9109" stop-color="#daf0b3"/><stop offset="1" stop-color="#d5efb3"/></linearGradient><linearGradient id="h1_47"><stop offset="0" stop-color="#92d5b9"/><stop offset="0.1031" stop-color="#97d6b9"/><stop offset="0.1504" stop-color="#92d5b9"/><stop offset="0.3148" stop-color="#9cd8b8"/><stop offset="0.3343" stop-color="#a0dab8"/><stop offset="0.3816" stop-color="#b7e3b6"/><stop offset="0.4067" stop-color="#c4e8b4"/><stop offset="0.5766" stop-color="#d7efb3"/><stop offset="0.6936" stop-color="#eef8b3"/><stop offset="0.7716" stop-color="#f4fbc0"/><stop offset="0.8524" stop-color="#f3fabd"/><stop offset="0.922" stop-color="#ecf7b1"/><stop offset="1" stop-color="#e3f4b2"/></linearGradient><linearGradient id="h1_48"><stop offset="0" stop-color="#a5dcb7"/><stop offset="0.1393" stop-color="#a5dcb7"/><stop offset="0.1838" stop-color="#a5dcb7"/><stop offset="0.3203" stop-color="#b0e0b6"/><stop offset="0.39" stop-color="#cdebb4"/><stop offset="0.5209" stop-color="#dcf1b2"/><stop offset="0.5822" stop-color="#e6f5b2"/><stop offset="0.6212" stop-color="#eef8b3"/><stop offset="0.7744" stop-color="#fafdcf"/><stop offset="0.8496" stop-color="#f9fdcc"/><stop offset="0.9415" stop-color="#f0f9b7"/><stop offset="1" stop-color="#ecf7b1"/></linearGradient><linearGradient id="h1_49"><stop offset="0" stop-color="#b2e1b6"/><stop offset="0.2033" stop-color="#b4e2b6"/><stop offset="0.3203" stop-color="#c2e7b4"/><stop offset="0.415" stop-color="#daf0b3"/><stop offset="0.5265" stop-color="#e3f4b2"/><stop offset="0.6045" stop-color="#eef8b3"/><stop offset="0.7688" stop-color="#f9fdcb"/><stop offset="0.8552" stop-color="#f7fcc7"/><stop offset="0.9471" stop-color="#eff9b6"/><stop offset="1" stop-color="#ecf7b1"/></linearGradient><linearGradient id="h1_50"><stop offset="0" stop-color="#c0e6b5"/><stop offset="0.1922" stop-color="#c4e8b4"/><stop offset="0.3454" stop-color="#d3eeb3"/><stop offset="0.4206" stop-color="#e0f3b2"/><stop offset="0.5487" stop-color="#e7f6b1"/><stop offset="0.6351" stop-color="#eef8b3"/><stop offset="0.6992" stop-color="#f0f9b8"/><stop offset="0.844" stop-color="#f0f9b7"/><stop offset="0.9331" stop-color="#eaf7b1"/><stop offset="1" stop-color="#e8f6b1"/></linearGradient><linearGradient id="h1_51"><stop offset="0" stop-color="#caeab4"/><stop offset="0.2423" stop-color="#d0edb3"/><stop offset="0.3733" stop-color="#dcf1b2"/><stop offset="0.5014" stop-color="#e6f5b2"/><stop offset="0.5961" stop-color="#e8f6b1"/><stop offset="0.6602" stop-color="#eef8b3"/><stop offset="0.9304" stop-color="#e9f7b1"/><stop offset="1" stop-color="#e8f6b1"/></linearGradient><linearGradient id="h1_52"><stop offset="0" stop-color="#d1edb3"/><stop offset="0.273" stop-color="#d9f0b3"/><stop offset="0.4763" stop-color="#e5f5b2"/><stop offset="0.5933" stop-color="#e7f6b1"/><stop offset="0.663" stop-color="#eef8b3"/><stop offset="1" stop-color="#e9f7b1"/></linearGradient><linearGradient id="h1_53"><stop offset="0" stop-color="#d9f0b3"/><stop offset="0.2869" stop-color="#dff2b2"/><stop offset="0.5042" stop-color="#e6f5b2"/><stop offset="0.5961" stop-color="#e8f6b1"/><stop offset="0.663" stop-color="#eff9b5"/><stop offset="1" stop-color="#ecf7b1"/></linearGradient><linearGradient id="h1_54"><stop offset="0" stop-color="#dff2b2"/><stop offset="0.5766" stop-color="#e8f6b1"/><stop offset="0.649" stop-color="#eff9b5"/><stop offset="0.7911" stop-color="#eff9b6"/><stop offset="1" stop-color="#eef8b3"/></linearGradient></defs><rect x="1188.50" y="40" width="714.90" height="2" fill="url(#h1_0)"/><rect x="1188.50" y="42" width="714.90" height="2" fill="url(#h1_1)"/><rect x="1188.50" y="44" width="714.90" height="2" fill="url(#h1_1)"/><rect x="1188.50" y="46" width="714.90" height="2" fill="url(#h1_1)"/><rect x="1188.50" y="48" width="714.90" height="2" fill="url(#h1_1)"/><rect x="1188.50" y="50" width="714.90" height="2" fill="url(#h1_5)"/><rect x="1188.50" y="52" width="714.90" height="2" fill="url(#h1_6)"/><rect x="1188.50" y="54" width="714.90" height="2" fill="url(#h1_7)"/><rect x="1188.50" y="56" width="714.90" height="2" fill="url(#h1_7)"/><rect x="1188.50" y="58" width="714.90" height="2" fill="url(#h1_9)"/><rect x="1188.50" y="60" width="714.90" height="2" fill="url(#h1_10)"/><rect x="1188.50" y="62" width="714.90" height="2" fill="url(#h1_11)"/><rect x="1188.50" y="64" width="714.90" height="2" fill="url(#h1_12)"/><rect x="1188.50" y="66" width="714.90" height="2" fill="url(#h1_13)"/><rect x="1188.50" y="68" width="714.90" height="2" fill="url(#h1_14)"/><rect x="1188.50" y="70" width="714.90" height="2" fill="url(#h1_15)"/><rect x="1188.50" y="72" width="714.90" height="2" fill="url(#h1_16)"/><rect x="1188.50" y="74" width="714.90" height="2" fill="url(#h1_17)"/><rect x="1188.50" y="76" width="714.90" height="2" fill="url(#h1_18)"/><rect x="1188.50" y="78" width="714.90" height="3" fill="url(#h1_19)"/><rect x="1188.50" y="81" width="714.90" height="2" fill="url(#h1_20)"/><rect x="1188.50" y="83" width="714.90" height="2" fill="url(#h1_21)"/><rect x="1188.50" y="85" width="714.90" height="2" fill="url(#h1_22)"/><rect x="1188.50" y="87" width="714.90" height="2" fill="url(#h1_23)"/><rect x="1188.50" y="89" width="714.90" height="2" fill="url(#h1_24)"/><rect x="1188.50" y="91" width="714.90" height="2" fill="url(#h1_25)"/><rect x="1188.50" y="93" width="714.90" height="2" fill="url(#h1_26)"/><rect x="1188.50" y="95" width="714.90" height="2" fill="url(#h1_27)"/><rect x="1188.50" y="97" width="714.90" height="2" fill="url(#h1_28)"/><rect x="1188.50" y="99" width="714.90" height="2" fill="url(#h1_29)"/><rect x="1188.50" y="101" width="714.90" height="2" fill="url(#h1_30)"/><rect x="1188.50" y="103" width="714.90" height="2" fill="url(#h1_31)"/><rect x="1188.50" y="105" width="714.90" height="2" fill="url(#h1_32)"/><rect x="1188.50" y="107" width="714.90" height="2" fill="url(#h1_33)"/><rect x="1188.50" y="109" width="714.90" height="2" fill="url(#h1_34)"/><rect x="1188.50" y="111" width="714.90" height="2" fill="url(#h1_35)"/><rect x="1188.50" y="113" width="714.90" height="2" fill="url(#h1_36)"/><rect x="1188.50" y="115" width="714.90" height="2" fill="url(#h1_37)"/><rect x="1188.50" y="117" width="714.90" height="2" fill="url(#h1_38)"/><rect x="1188.50" y="119" width="714.90" height="2" fill="url(#h1_39)"/><rect x="1188.50" y="121" width="714.90" height="2" fill="url(#h1_40)"/><rect x="1188.50" y="123" width="714.90" height="2" fill="url(#h1_41)"/><rect x="1188.50" y="125" width="714.90" height="2" fill="url(#h1_42)"/><rect x="1188.50" y="127" width="714.90" height="2" fill="url(#h1_43)"/><rect x="1188.50" y="129" width="714.90" height="2" fill="url(#h1_44)"/><rect x="1188.50" y="131" width="714.90" height="2" fill="url(#h1_45)"/><rect x="1188.50" y="133" width="714.90" height="2" fill="url(#h1_46)"/><rect x="1188.50" y="135" width="714.90" height="3" fill="url(#h1_47)"/><rect x="1188.50" y="138" width="714.90" height="2" fill="url(#h1_48)"/><rect x="1188.50" y="140" width="714.90" height="2" fill="url(#h1_49)"/><rect x="1188.50" y="142" width="714.90" height="2" fill="url(#h1_50)"/><rect x="1188.50" y="144" width="714.90" height="2" fill="url(#h1_51)"/><rect x="1188.50" y="146" width="714.90" height="2" fill="url(#h1_52)"/><rect x="1188.50" y="148" width="714.90" height="2" fill="url(#h1_53)"/><rect x="1188.50" y="150" width="714.90" height="2" fill="url(#h1_54)"/><rect x="1188.50" y="152" width="714.90" height="2" fill="url(#h1_25)"/><rect x="1188.50" y="154" width="714.90" height="2" fill="url(#h1_24)"/><rect x="1188.50" y="156" width="714.90" height="2" fill="url(#h1_23)"/><rect x="1188.50" y="158" width="714.90" height="2" fill="url(#h1_22)"/><rect x="1188.50" y="160" width="714.90" height="2" fill="url(#h1_21)"/><rect x="1188.50" y="162" width="714.90" height="2" fill="url(#h1_20)"/><rect x="1188.50" y="164" width="714.90" height="2" fill="url(#h1_19)"/><rect x="1188.50" y="166" width="714.90" height="2" fill="url(#h1_18)"/><rect x="1188.50" y="168" width="714.90" height="2" fill="url(#h1_17)"/><rect x="1188.50" y="170" width="714.90" height="2" fill="url(#h1_16)"/><rect x="1188.50" y="172" width="714.90" height="2" fill="url(#h1_15)"/><rect x="1188.50" y="174" width="714.90" height="2" fill="url(#h1_14)"/><rect x="1188.50" y="176" width="714.90" height="2" fill="url(#h1_13)"/><rect x="1188.50" y="178" width="714.90" height="2" fill="url(#h1_12)"/><rect x="1188.50" y="180" width="714.90" height="2" fill="url(#h1_11)"/><rect x="1188.50" y="182" width="714.90" height="2" fill="url(#h1_10)"/><rect x="1188.50" y="184" width="714.90" height="2" fill="url(#h1_9)"/><rect x="1188.50" y="186" width="714.90" height="2" fill="url(#h1_7)"/><rect x="1188.50" y="188" width="714.90" height="2" fill="url(#h1_7)"/><rect x="1188.50" y="190" width="714.90" height="2" fill="url(#h1_6)"/><rect x="1188.50" y="192" width="714.90" height="3" fill="url(#h1_5)"/><rect x="1188.50" y="195" width="714.90" height="2" fill="url(#h1_1)"/><rect x="1188.50" y="197" width="714.90" height="2" fill="url(#h1_1)"/><rect x="1188.50" y="199" width="714.90" height="2" fill="url(#h1_1)"/><rect x="1188.50" y="201" width="714.90" height="2" fill="url(#h1_1)"/><rect x="1188.50" y="203" width="714.90" height="2" fill="url(#h1_0)"/><rect x="1190.05" y="41.35" width="711.80" height="161.80" fill="none" stroke="#000" stroke-opacity="0.42" stroke-width="1.20"/><defs><linearGradient id="cb1" x1="0" y1="0" x2="0" y2="1"><stop offset="0" stop-color="#081d58"/><stop offset="0.01562" stop-color="#0b1f5e"/><stop offset="0.03125" stop-color="#0e2265"/><stop offset="0.04688" stop-color="#12256d"/><stop offset="0.0625" stop-color="#162874"/><stop offset="0.07812" stop-color="#192b7c"/><stop offset="0.09375" stop-color="#1d2e83"/><stop offset="0.1094" stop-color="#21308b"/><stop offset="0.125" stop-color="#243392"/><stop offset="0.1406" stop-color="#253896"/><stop offset="0.1562" stop-color="#243d98"/><stop offset="0.1719" stop-color="#24439b"/><stop offset="0.1875" stop-color="#24489d"/><stop offset="0.2031" stop-color="#234da0"/><stop offset="0.2188" stop-color="#2352a3"/><stop offset="0.2344" stop-color="#2258a5"/><stop offset="0.25" stop-color="#225da8"/><stop offset="0.2656" stop-color="#2163aa"/><stop offset="0.2812" stop-color="#216aad"/><stop offset="0.2969" stop-color="#2070b0"/><stop offset="0.3125" stop-color="#2076b3"/><stop offset="0.3281" stop-color="#1f7db6"/><stop offset="0.3438" stop-color="#1e83ba"/><stop offset="0.3594" stop-color="#1e8abd"/><stop offset="0.375" stop-color="#1d90c0"/><stop offset="0.3906" stop-color="#2195c0"/><stop offset="0.4062" stop-color="#259ac1"/><stop offset="0.4219" stop-color="#2a9ec1"/><stop offset="0.4375" stop-color="#2ea3c2"/><stop offset="0.4531" stop-color="#33a7c2"/><stop offset="0.4688" stop-color="#37acc3"/><stop offset="0.4844" stop-color="#3cb1c3"/><stop offset="0.5" stop-color="#40b5c4"/><stop offset="0.5156" stop-color="#48b9c3"/><stop offset="0.5312" stop-color="#50bbc2"/><stop offset="0.5469" stop-color="#57bec1"/><stop offset="0.5625" stop-color="#5fc1c0"/><stop offset="0.5781" stop-color="#67c4be"/><stop offset="0.5938" stop-color="#6fc7bd"/><stop offset="0.6094" stop-color="#76cabc"/><stop offset="0.625" stop-color="#7ecdbb"/><stop offset="0.6406" stop-color="#87d0ba"/><stop offset="0.6562" stop-color="#90d4b9"/><stop offset="0.6719" stop-color="#99d7b8"/><stop offset="0.6875" stop-color="#a2dbb8"/><stop offset="0.7031" stop-color="#abdeb7"/><stop offset="0.7188" stop-color="#b4e2b6"/><stop offset="0.7344" stop-color="#bde5b5"/><stop offset="0.75" stop-color="#c6e9b4"/><stop offset="0.7656" stop-color="#cbebb4"/><stop offset="0.7812" stop-color="#d0edb3"/><stop offset="0.7969" stop-color="#d5efb3"/><stop offset="0.8125" stop-color="#daf0b3"/><stop offset="0.8281" stop-color="#dff2b2"/><stop offset="0.8438" stop-color="#e3f4b2"/><stop offset="0.8594" stop-color="#e8f6b1"/><stop offset="0.875" stop-color="#edf8b1"/><stop offset="0.8906" stop-color="#eff9b6"/><stop offset="0.9062" stop-color="#f1fabb"/><stop offset="0.9219" stop-color="#f4fbc0"/><stop offset="0.9375" stop-color="#f6fbc5"/><stop offset="0.9531" stop-color="#f8fcca"/><stop offset="0.9688" stop-color="#fafdcf"/><stop offset="0.9844" stop-color="#fdfed4"/><stop offset="1" stop-color="#ffffd9"/></linearGradient></defs><rect x="1913.50" y="39.80" width="35.70" height="164.90" fill="url(#cb1)"/><rect x="1915.05" y="41.35" width="32.60" height="161.80" fill="none" stroke="#000" stroke-opacity="0.42" stroke-width="1.20"/></g>
 
 <defs>
  <style type="text/css">*{stroke-linejoin: round; stroke-linecap: butt}</style>
 </defs>
 <g id="figure_1">
  <g id="patch_1">
   <path d="M 0 676 
L 2008 676 
L 2008 0 
L 0 0 
L 0 676 
z
" style="fill: none; opacity: 0"/>
  </g>
  <g id="axes_1">
   <g id="patch_2">
    <path d="M 133.2 204.7 
L 848.1 204.7 
L 848.1 39.8 
L 133.2 39.8 
L 133.2 204.7 
z
" style="fill: none; opacity: 0"/>
   </g>
   <g id="matplotlib.axis_1">
    <g id="xtick_1">
     <g id="line2d_1">
      <defs>
       <path id="mcf7a19c459" d="M 0 0 
L 0 9.905 
" style="stroke: #000000; stroke-width: 2.264"/>
      </defs>
      <g>
       <use xlink:href="#mcf7a19c459" x="133.2" y="204.7" style="stroke: #000000; stroke-width: 2.264"/>
      </g>
     </g>
     <g id="text_1">
      <text style="font-size: 28.3px; font-family: 'DejaVu Sans', 'Bitstream Vera Sans', 'Computer Modern Sans Serif', 'Lucida Grande', 'Verdana', 'Geneva', 'Lucid', 'Arial', 'Helvetica', 'Avant Garde', sans-serif; text-anchor: middle" x="133.2" y="246.013578" transform="rotate(-0 133.2 246.013578)">0.0</text>
     </g>
    </g>
    <g id="xtick_2">
     <g id="line2d_2">
      <g>
       <use xlink:href="#mcf7a19c459" x="224.223895" y="204.7" style="stroke: #000000; stroke-width: 2.264"/>
      </g>
     </g>
     <g id="text_2">
      <text style="font-size: 28.3px; font-family: 'DejaVu Sans', 'Bitstream Vera Sans', 'Computer Modern Sans Serif', 'Lucida Grande', 'Verdana', 'Geneva', 'Lucid', 'Arial', 'Helvetica', 'Avant Garde', sans-serif; text-anchor: middle" x="224.223895" y="246.013578" transform="rotate(-0 224.223895 246.013578)">0.2</text>
     </g>
    </g>
    <g id="xtick_3">
     <g id="line2d_3">
      <g>
       <use xlink:href="#mcf7a19c459" x="315.24779" y="204.7" style="stroke: #000000; stroke-width: 2.264"/>
      </g>
     </g>
     <g id="text_3">
      <text style="font-size: 28.3px; font-family: 'DejaVu Sans', 'Bitstream Vera Sans', 'Computer Modern Sans Serif', 'Lucida Grande', 'Verdana', 'Geneva', 'Lucid', 'Arial', 'Helvetica', 'Avant Garde', sans-serif; text-anchor: middle" x="315.24779" y="246.013578" transform="rotate(-0 315.24779 246.013578)">0.4</text>
     </g>
    </g>
    <g id="xtick_4">
     <g id="line2d_4">
      <g>
       <use xlink:href="#mcf7a19c459" x="406.271685" y="204.7" style="stroke: #000000; stroke-width: 2.264"/>
      </g>
     </g>
     <g id="text_4">
      <text style="font-size: 28.3px; font-family: 'DejaVu Sans', 'Bitstream Vera Sans', 'Computer Modern Sans Serif', 'Lucida Grande', 'Verdana', 'Geneva', 'Lucid', 'Arial', 'Helvetica', 'Avant Garde', sans-serif; text-anchor: middle" x="406.271685" y="246.013578" transform="rotate(-0 406.271685 246.013578)">0.6</text>
     </g>
    </g>
    <g id="xtick_5">
     <g id="line2d_5">
      <g>
       <use xlink:href="#mcf7a19c459" x="497.29558" y="204.7" style="stroke: #000000; stroke-width: 2.264"/>
      </g>
     </g>
     <g id="text_5">
      <text style="font-size: 28.3px; font-family: 'DejaVu Sans', 'Bitstream Vera Sans', 'Computer Modern Sans Serif', 'Lucida Grande', 'Verdana', 'Geneva', 'Lucid', 'Arial', 'Helvetica', 'Avant Garde', sans-serif; text-anchor: middle" x="497.29558" y="246.013578" transform="rotate(-0 497.29558 246.013578)">0.8</text>
     </g>
    </g>
    <g id="xtick_6">
     <g id="line2d_6">
      <g>
       <use xlink:href="#mcf7a19c459" x="588.319475" y="204.7" style="stroke: #000000; stroke-width: 2.264"/>
      </g>
     </g>
     <g id="text_6">
      <text style="font-size: 28.3px; font-family: 'DejaVu Sans', 'Bitstream Vera Sans', 'Computer Modern Sans Serif', 'Lucida Grande', 'Verdana', 'Geneva', 'Lucid', 'Arial', 'Helvetica', 'Avant Garde', sans-serif; text-anchor: middle" x="588.319475" y="246.013578" transform="rotate(-0 588.319475 246.013578)">1.0</text>
     </g>
    </g>
    <g id="xtick_7">
     <g id="line2d_7">
      <g>
       <use xlink:href="#mcf7a19c459" x="679.34337" y="204.7" style="stroke: #000000; stroke-width: 2.264"/>
      </g>
     </g>
     <g id="text_7">
      <text style="font-size: 28.3px; font-family: 'DejaVu Sans', 'Bitstream Vera Sans', 'Computer Modern Sans Serif', 'Lucida Grande', 'Verdana', 'Geneva', 'Lucid', 'Arial', 'Helvetica', 'Avant Garde', sans-serif; text-anchor: middle" x="679.34337" y="246.013578" transform="rotate(-0 679.34337 246.013578)">1.2</text>
     </g>
    </g>
    <g id="xtick_8">
     <g id="line2d_8">
      <g>
       <use xlink:href="#mcf7a19c459" x="770.367265" y="204.7" style="stroke: #000000; stroke-width: 2.264"/>
      </g>
     </g>
     <g id="text_8">
      <text style="font-size: 28.3px; font-family: 'DejaVu Sans', 'Bitstream Vera Sans', 'Computer Modern Sans Serif', 'Lucida Grande', 'Verdana', 'Geneva', 'Lucid', 'Arial', 'Helvetica', 'Avant Garde', sans-serif; text-anchor: middle" x="770.367265" y="246.013578" transform="rotate(-0 770.367265 246.013578)">1.4</text>
     </g>
    </g>
    <g id="text_9">
     
     <g transform="translate(484.99 282.422672)">
      <text>
       <tspan x="0" y="-0.34375" style="font-style: oblique; font-size: 28.3px; font-family: 'DejaVu Sans'">t</tspan>
      </text>
     </g>
    </g>
   </g>
   <g id="matplotlib.axis_2">
    <g id="ytick_1">
     <g id="line2d_9">
      <defs>
       <path id="mf63c6ea9cd" d="M 0 0 
L -9.905 0 
" style="stroke: #000000; stroke-width: 2.264"/>
      </defs>
      <g>
       <use xlink:href="#mf63c6ea9cd" x="133.2" y="204.7" style="stroke: #000000; stroke-width: 2.264"/>
      </g>
     </g>
     <g id="text_10">
      <text style="font-size: 28.3px; font-family: 'DejaVu Sans', 'Bitstream Vera Sans', 'Computer Modern Sans Serif', 'Lucida Grande', 'Verdana', 'Geneva', 'Lucid', 'Arial', 'Helvetica', 'Avant Garde', sans-serif; text-anchor: end" x="113.39" y="215.451789" transform="rotate(-0 113.39 215.451789)">−5</text>
     </g>
    </g>
    <g id="ytick_2">
     <g id="line2d_10">
      <g>
       <use xlink:href="#mf63c6ea9cd" x="133.2" y="122.25" style="stroke: #000000; stroke-width: 2.264"/>
      </g>
     </g>
     <g id="text_11">
      <text style="font-size: 28.3px; font-family: 'DejaVu Sans', 'Bitstream Vera Sans', 'Computer Modern Sans Serif', 'Lucida Grande', 'Verdana', 'Geneva', 'Lucid', 'Arial', 'Helvetica', 'Avant Garde', sans-serif; text-anchor: end" x="113.39" y="133.001789" transform="rotate(-0 113.39 133.001789)">0</text>
     </g>
    </g>
    <g id="ytick_3">
     <g id="line2d_11">
      <g>
       <use xlink:href="#mf63c6ea9cd" x="133.2" y="39.8" style="stroke: #000000; stroke-width: 2.264"/>
      </g>
     </g>
     <g id="text_12">
      <text style="font-size: 28.3px; font-family: 'DejaVu Sans', 'Bitstream Vera Sans', 'Computer Modern Sans Serif', 'Lucida Grande', 'Verdana', 'Geneva', 'Lucid', 'Arial', 'Helvetica', 'Avant Garde', sans-serif; text-anchor: end" x="113.39" y="50.551789" transform="rotate(-0 113.39 50.551789)">5</text>
     </g>
    </g>
    <g id="text_13">
     
     <g transform="translate(54.464094 130.74) rotate(-90)">
      <text>
       <tspan x="0" y="-0.6875" style="font-style: oblique; font-size: 28.3px; font-family: 'DejaVu Sans'">x</tspan>
      </text>
     </g>
    </g>
   </g>
   <g id="line2d_12">
    <path d="M 401.2875 206.1 
L 401.2875 39.8 
" clip-path="url(#pc7590ab230)" style="fill: none; stroke-dasharray: 10.471,4.528; stroke-dashoffset: 0; stroke: #000000; stroke-width: 2.83"/>
   </g>
   <g id="line2d_13">
    <path d="M 490.65 206.1 
L 490.65 39.8 
" clip-path="url(#pc7590ab230)" style="fill: none; stroke-dasharray: 10.471,4.528; stroke-dashoffset: 0; stroke: #000000; stroke-width: 2.83"/>
   </g>
   <g id="line2d_14">
    <path d="M 580.0125 206.1 
L 580.0125 39.8 
" clip-path="url(#pc7590ab230)" style="fill: none; stroke-dasharray: 10.471,4.528; stroke-dashoffset: 0; stroke: #000000; stroke-width: 2.83"/>
   </g>
   <g id="patch_3">
    <path d="M 133.2 204.7 
L 133.2 39.8 
" style="fill: none; stroke: #000000; stroke-width: 2.264; stroke-linejoin: miter; stroke-linecap: square"/>
   </g>
   <g id="patch_4">
    <path d="M 848.1 204.7 
L 848.1 39.8 
" style="fill: none; stroke: #000000; stroke-width: 2.264; stroke-linejoin: miter; stroke-linecap: square"/>
   </g>
   <g id="patch_5">
    <path d="M 133.2 204.7 
L 848.1 204.7 
" style="fill: none; stroke: #000000; stroke-width: 2.264; stroke-linejoin: miter; stroke-linecap: square"/>
   </g>
   <g id="patch_6">
    <path d="M 133.2 39.8 
L 848.1 39.8 
" style="fill: none; stroke: #000000; stroke-width: 2.264; stroke-linejoin: miter; stroke-linecap: square"/>
   </g>
   <g id="text_14">
    
    <g transform="translate(439.8515 23.12)">
     <text>
      <tspan x="0" y="-0.609375" style="font-size: 28.3px; font-family: 'DejaVu Sans'">|</tspan>
      <tspan x="27.422363" y="-0.609375" style="font-size: 28.3px; font-family: 'DejaVu Sans'">(</tspan>
      <tspan x="55.161987" y="-0.609375" style="font-size: 28.3px; font-family: 'DejaVu Sans'">,</tspan>
      <tspan x="80.722168" y="-0.609375" style="font-size: 28.3px; font-family: 'DejaVu Sans'">)</tspan>
      <tspan x="91.74353" y="-0.609375" style="font-size: 28.3px; font-family: 'DejaVu Sans'">|</tspan>
      <tspan x="9.517822" y="-0.609375" style="font-style: oblique; font-size: 28.3px; font-family: 'DejaVu Sans'">u</tspan>
      <tspan x="38.443726" y="-0.609375" style="font-style: oblique; font-size: 28.3px; font-family: 'DejaVu Sans'">x</tspan>
      <tspan x="69.64563" y="-0.609375" style="font-style: oblique; font-size: 28.3px; font-family: 'DejaVu Sans'">t</tspan>
     </text>
    </g>
   </g>
  </g>
  <g id="axes_2">
   <g id="patch_7">
    <path d="M 858.2 204.7 
L 893.9 204.7 
L 893.9 39.8 
L 858.2 39.8 
L 858.2 204.7 
z
" style="fill: none; opacity: 0"/>
   </g>
   <g id="matplotlib.axis_3"/>
   <g id="matplotlib.axis_4">
    <g id="ytick_4">
     <g id="line2d_15">
      <defs>
       <path id="m900f18a0e5" d="M 0 0 
L 9.905 0 
" style="stroke: #000000; stroke-width: 2.264"/>
      </defs>
      <g>
       <use xlink:href="#m900f18a0e5" x="893.9" y="204.7" style="stroke: #000000; stroke-width: 2.264"/>
      </g>
     </g>
     <g id="text_15">
      <text style="font-size: 28.3px; font-family: 'DejaVu Sans', 'Bitstream Vera Sans', 'Computer Modern Sans Serif', 'Lucida Grande', 'Verdana', 'Geneva', 'Lucid', 'Arial', 'Helvetica', 'Avant Garde', sans-serif; text-anchor: start" x="913.71" y="215.451789" transform="rotate(-0 913.71 215.451789)">0</text>
     </g>
    </g>
    <g id="ytick_5">
     <g id="line2d_16">
      <g>
       <use xlink:href="#m900f18a0e5" x="893.9" y="122.25" style="stroke: #000000; stroke-width: 2.264"/>
      </g>
     </g>
     <g id="text_16">
      <text style="font-size: 28.3px; font-family: 'DejaVu Sans', 'Bitstream Vera Sans', 'Computer Modern Sans Serif', 'Lucida Grande', 'Verdana', 'Geneva', 'Lucid', 'Arial', 'Helvetica', 'Avant Garde', sans-serif; text-anchor: start" x="913.71" y="133.001789" transform="rotate(-0 913.71 133.001789)">2</text>
     </g>
    </g>
    <g id="ytick_6">
     <g id="line2d_17">
      <g>
       <use xlink:href="#m900f18a0e5" x="893.9" y="39.8" style="stroke: #000000; stroke-width: 2.264"/>
      </g>
     </g>
     <g id="text_17">
      <text style="font-size: 28.3px; font-family: 'DejaVu Sans', 'Bitstream Vera Sans', 'Computer Modern Sans Serif', 'Lucida Grande', 'Verdana', 'Geneva', 'Lucid', 'Arial', 'Helvetica', 'Avant Garde', sans-serif; text-anchor: start" x="913.71" y="50.551789" transform="rotate(-0 913.71 50.551789)">4</text>
     </g>
    </g>
   </g>
   <g id="patch_8">
    <path d="M 858.2 204.7 
L 858.2 39.8 
" style="fill: none; stroke: #000000; stroke-width: 2.264; stroke-linejoin: miter; stroke-linecap: square"/>
   </g>
   <g id="patch_9">
    <path d="M 893.9 204.7 
L 893.9 39.8 
" style="fill: none; stroke: #000000; stroke-width: 2.264; stroke-linejoin: miter; stroke-linecap: square"/>
   </g>
   <g id="patch_10">
    <path d="M 858.2 204.7 
L 893.9 204.7 
" style="fill: none; stroke: #000000; stroke-width: 2.264; stroke-linejoin: miter; stroke-linecap: square"/>
   </g>
   <g id="patch_11">
    <path d="M 858.2 39.8 
L 893.9 39.8 
" style="fill: none; stroke: #000000; stroke-width: 2.264; stroke-linejoin: miter; stroke-linecap: square"/>
   </g>
  </g>
  <g id="axes_3">
   <g id="patch_12">
    <path d="M 79.4 461.7 
L 296.4 461.7 
L 296.4 351 
L 79.4 351 
z
" style="fill: #ffffff"/>
   </g>
   <g id="matplotlib.axis_5">
    <g id="xtick_9">
     <g id="line2d_18">
      <g>
       <use xlink:href="#mcf7a19c459" x="81.527451" y="461.7" style="stroke: #000000; stroke-width: 2.264"/>
      </g>
     </g>
     <g id="text_18">
      <text style="font-size: 28.3px; font-family: 'DejaVu Sans', 'Bitstream Vera Sans', 'Computer Modern Sans Serif', 'Lucida Grande', 'Verdana', 'Geneva', 'Lucid', 'Arial', 'Helvetica', 'Avant Garde', sans-serif; text-anchor: middle" x="81.527451" y="503.013578" transform="rotate(-0 81.527451 503.013578)">−5</text>
     </g>
    </g>
    <g id="xtick_10">
     <g id="line2d_19">
      <g>
       <use xlink:href="#mcf7a19c459" x="187.9" y="461.7" style="stroke: #000000; stroke-width: 2.264"/>
      </g>
     </g>
     <g id="text_19">
      <text style="font-size: 28.3px; font-family: 'DejaVu Sans', 'Bitstream Vera Sans', 'Computer Modern Sans Serif', 'Lucida Grande', 'Verdana', 'Geneva', 'Lucid', 'Arial', 'Helvetica', 'Avant Garde', sans-serif; text-anchor: middle" x="187.9" y="503.013578" transform="rotate(-0 187.9 503.013578)">0</text>
     </g>
    </g>
    <g id="xtick_11">
     <g id="line2d_20">
      <g>
       <use xlink:href="#mcf7a19c459" x="294.272549" y="461.7" style="stroke: #000000; stroke-width: 2.264"/>
      </g>
     </g>
     <g id="text_20">
      <text style="font-size: 28.3px; font-family: 'DejaVu Sans', 'Bitstream Vera Sans', 'Computer Modern Sans Serif', 'Lucida Grande', 'Verdana', 'Geneva', 'Lucid', 'Arial', 'Helvetica', 'Avant Garde', sans-serif; text-anchor: middle" x="294.272549" y="503.013578" transform="rotate(-0 294.272549 503.013578)">5</text>
     </g>
    </g>
    <g id="text_21">
     
     <g transform="translate(179.41 540.722672)">
      <text>
       <tspan x="0" y="-0.6875" style="font-style: oblique; font-size: 28.3px; font-family: 'DejaVu Sans'">x</tspan>
      </text>
     </g>
    </g>
   </g>
   <g id="matplotlib.axis_6">
    <g id="ytick_7">
     <g id="line2d_21">
      <g>
       <use xlink:href="#mf63c6ea9cd" x="79.4" y="459.571154" style="stroke: #000000; stroke-width: 2.264"/>
      </g>
     </g>
     <g id="text_22">
      <text style="font-size: 28.3px; font-family: 'DejaVu Sans', 'Bitstream Vera Sans', 'Computer Modern Sans Serif', 'Lucida Grande', 'Verdana', 'Geneva', 'Lucid', 'Arial', 'Helvetica', 'Avant Garde', sans-serif; text-anchor: end" x="59.59" y="470.322943" transform="rotate(-0 59.59 470.322943)">0</text>
     </g>
    </g>
    <g id="ytick_8">
     <g id="line2d_22">
      <g>
       <use xlink:href="#mf63c6ea9cd" x="79.4" y="353.128846" style="stroke: #000000; stroke-width: 2.264"/>
      </g>
     </g>
     <g id="text_23">
      <text style="font-size: 28.3px; font-family: 'DejaVu Sans', 'Bitstream Vera Sans', 'Computer Modern Sans Serif', 'Lucida Grande', 'Verdana', 'Geneva', 'Lucid', 'Arial', 'Helvetica', 'Avant Garde', sans-serif; text-anchor: end" x="59.59" y="363.880635" transform="rotate(-0 59.59 363.880635)">5</text>
     </g>
    </g>
    <g id="text_24">
     
     <g transform="translate(23.472125 457.1485) rotate(-90)">
      <text>
       <tspan x="0" y="-0.609375" style="font-size: 28.3px; font-family: 'DejaVu Sans'">|</tspan>
       <tspan x="27.422363" y="-0.609375" style="font-size: 28.3px; font-family: 'DejaVu Sans'">(</tspan>
       <tspan x="55.161987" y="-0.609375" style="font-size: 28.3px; font-family: 'DejaVu Sans'">,</tspan>
       <tspan x="80.722168" y="-0.609375" style="font-size: 28.3px; font-family: 'DejaVu Sans'">)</tspan>
       <tspan x="91.74353" y="-0.609375" style="font-size: 28.3px; font-family: 'DejaVu Sans'">|</tspan>
       <tspan x="9.517822" y="-0.609375" style="font-style: oblique; font-size: 28.3px; font-family: 'DejaVu Sans'">u</tspan>
       <tspan x="38.443726" y="-0.609375" style="font-style: oblique; font-size: 28.3px; font-family: 'DejaVu Sans'">x</tspan>
       <tspan x="69.64563" y="-0.609375" style="font-style: oblique; font-size: 28.3px; font-family: 'DejaVu Sans'">t</tspan>
      </text>
     </g>
    </g>
   </g>
   <g id="line2d_23">
    <path d="M 81.527451 458.695258 
L 91.313725 458.584995 
L 98.759804 458.314852 
L 105.354902 457.893486 
L 111.95 457.255969 
L 117.906863 456.45245 
L 123.22549 455.541651 
L 129.182353 454.278424 
L 134.288235 452.960214 
L 139.394118 451.401213 
L 143.64902 449.901075 
L 151.946078 446.679196 
L 156.20098 445.166724 
L 158.966667 444.397672 
L 161.519608 443.91092 
L 163.859804 443.685365 
L 167.263725 443.622766 
L 169.603922 443.508249 
L 170.880392 443.229287 
L 171.944118 442.75654 
L 172.795098 442.153392 
L 173.646078 441.286279 
L 174.497059 440.099995 
L 175.348039 438.543992 
L 176.19902 436.577041 
L 177.262745 433.495785 
L 178.326471 429.696473 
L 179.602941 424.202992 
L 181.092157 416.673443 
L 185.347059 394.177836 
L 186.198039 391.180263 
L 186.836275 389.635161 
L 187.261765 388.985063 
L 187.687255 388.655156 
L 188.112745 388.655156 
L 188.538235 388.985063 
L 188.963725 389.635161 
L 189.601961 391.180263 
L 190.240196 393.338693 
L 191.091176 396.997832 
L 192.367647 403.610939 
L 195.984314 423.194682 
L 197.260784 428.850621 
L 198.537255 433.495785 
L 199.60098 436.577041 
L 200.664706 438.970073 
L 201.515686 440.429341 
L 202.366667 441.53098 
L 203.217647 442.326266 
L 204.281373 442.978822 
L 205.345098 443.350394 
L 206.621569 443.555127 
L 208.74902 443.623288 
L 212.578431 443.725392 
L 214.918627 444.009783 
L 217.471569 444.554934 
L 220.237255 445.374062 
L 224.279412 446.842031 
L 236.405882 451.401213 
L 241.511765 452.960214 
L 246.404902 454.228237 
L 251.723529 455.37354 
L 256.616667 456.254045 
L 262.786275 457.128959 
L 268.955882 457.770092 
L 275.976471 458.262374 
L 284.273529 458.58039 
L 294.272549 458.695258 
L 294.272549 458.695258 
" clip-path="url(#pe97401016c)" style="fill: none; stroke: #2c5eb0; stroke-width: 5.66; stroke-linecap: square"/>
   </g>
   <g id="line2d_24">
    <path d="M 81.527451 458.695258 
L 91.313725 458.584995 
L 98.759804 458.314852 
L 105.354902 457.893486 
L 111.95 457.255969 
L 117.906863 456.45245 
L 123.22549 455.541651 
L 129.182353 454.278424 
L 134.288235 452.960214 
L 139.394118 451.401213 
L 143.64902 449.901075 
L 151.946078 446.679196 
L 156.20098 445.166724 
L 158.966667 444.397672 
L 161.519608 443.91092 
L 163.859804 443.685365 
L 167.263725 443.622766 
L 169.603922 443.508249 
L 170.880392 443.229287 
L 171.944118 442.75654 
L 172.795098 442.153392 
L 173.646078 441.286279 
L 174.497059 440.099995 
L 175.348039 438.543992 
L 176.19902 436.577041 
L 177.262745 433.495785 
L 178.326471 429.696473 
L 179.602941 424.202992 
L 181.092157 416.673443 
L 185.347059 394.177836 
L 186.198039 391.180263 
L 186.836275 389.635161 
L 187.261765 388.985063 
L 187.687255 388.655156 
L 188.112745 388.655156 
L 188.538235 388.985063 
L 188.963725 389.635161 
L 189.601961 391.180263 
L 190.240196 393.338693 
L 191.091176 396.997832 
L 192.367647 403.610939 
L 195.984314 423.194682 
L 197.260784 428.850621 
L 198.537255 433.495785 
L 199.60098 436.577041 
L 200.664706 438.970073 
L 201.515686 440.429341 
L 202.366667 441.53098 
L 203.217647 442.326266 
L 204.281373 442.978822 
L 205.345098 443.350394 
L 206.621569 443.555127 
L 208.74902 443.623288 
L 212.578431 443.725392 
L 214.918627 444.009783 
L 217.471569 444.554934 
L 220.237255 445.374062 
L 224.279412 446.842031 
L 236.405882 451.401213 
L 241.511765 452.960214 
L 246.404902 454.228237 
L 251.723529 455.37354 
L 256.616667 456.254045 
L 262.786275 457.128959 
L 268.955882 457.770092 
L 275.976471 458.262374 
L 284.273529 458.58039 
L 294.272549 458.695258 
L 294.272549 458.695258 
" clip-path="url(#pe97401016c)" style="fill: none; stroke-dasharray: 20.942,9.056; stroke-dashoffset: 0; stroke: #ea0252; stroke-width: 5.66"/>
   </g>
   <g id="patch_13">
    <path d="M 79.4 461.7 
L 79.4 351 
" style="fill: none; stroke: #000000; stroke-width: 2.264; stroke-linejoin: miter; stroke-linecap: square"/>
   </g>
   <g id="patch_14">
    <path d="M 296.4 461.7 
L 296.4 351 
" style="fill: none; stroke: #000000; stroke-width: 2.264; stroke-linejoin: miter; stroke-linecap: square"/>
   </g>
   <g id="patch_15">
    <path d="M 79.4 461.7 
L 296.4 461.7 
" style="fill: none; stroke: #000000; stroke-width: 2.264; stroke-linejoin: miter; stroke-linecap: square"/>
   </g>
   <g id="patch_16">
    <path d="M 79.4 351 
L 296.4 351 
" style="fill: none; stroke: #000000; stroke-width: 2.264; stroke-linejoin: miter; stroke-linecap: square"/>
   </g>
   <g id="text_25">
    
    <g transform="translate(134.13 332.92)">
     <text>
      <tspan x="0" y="-0.21875" style="font-style: oblique; font-size: 28.3px; font-family: 'DejaVu Sans'">t</tspan>
      <tspan x="16.580322" y="-0.21875" style="font-size: 28.3px; font-family: 'DejaVu Sans'">=</tspan>
      <tspan x="45.754517" y="-0.21875" style="font-size: 28.3px; font-family: 'DejaVu Sans'">0</tspan>
      <tspan x="63.728027" y="-0.21875" style="font-size: 28.3px; font-family: 'DejaVu Sans'">.</tspan>
      <tspan x="72.707886" y="-0.21875" style="font-size: 28.3px; font-family: 'DejaVu Sans'">5</tspan>
      <tspan x="89.181396" y="-0.21875" style="font-size: 28.3px; font-family: 'DejaVu Sans'">9</tspan>
     </text>
    </g>
   </g>
  </g>
  <g id="axes_4">
   <g id="patch_17">
    <path d="M 405.2 461.7 
L 622.2 461.7 
L 622.2 351 
L 405.2 351 
z
" style="fill: #ffffff"/>
   </g>
   <g id="matplotlib.axis_7">
    <g id="xtick_12">
     <g id="line2d_25">
      <g>
       <use xlink:href="#mcf7a19c459" x="407.327451" y="461.7" style="stroke: #000000; stroke-width: 2.264"/>
      </g>
     </g>
     <g id="text_26">
      <text style="font-size: 28.3px; font-family: 'DejaVu Sans', 'Bitstream Vera Sans', 'Computer Modern Sans Serif', 'Lucida Grande', 'Verdana', 'Geneva', 'Lucid', 'Arial', 'Helvetica', 'Avant Garde', sans-serif; text-anchor: middle" x="407.327451" y="503.013578" transform="rotate(-0 407.327451 503.013578)">−5</text>
     </g>
    </g>
    <g id="xtick_13">
     <g id="line2d_26">
      <g>
       <use xlink:href="#mcf7a19c459" x="513.7" y="461.7" style="stroke: #000000; stroke-width: 2.264"/>
      </g>
     </g>
     <g id="text_27">
      <text style="font-size: 28.3px; font-family: 'DejaVu Sans', 'Bitstream Vera Sans', 'Computer Modern Sans Serif', 'Lucida Grande', 'Verdana', 'Geneva', 'Lucid', 'Arial', 'Helvetica', 'Avant Garde', sans-serif; text-anchor: middle" x="513.7" y="503.013578" transform="rotate(-0 513.7 503.013578)">0</text>
     </g>
    </g>
    <g id="xtick_14">
     <g id="line2d_27">
      <g>
       <use xlink:href="#mcf7a19c459" x="620.072549" y="461.7" style="stroke: #000000; stroke-width: 2.264"/>
      </g>
     </g>
     <g id="text_28">
      <text style="font-size: 28.3px; font-family: 'DejaVu Sans', 'Bitstream Vera Sans', 'Computer Modern Sans Serif', 'Lucida Grande', 'Verdana', 'Geneva', 'Lucid', 'Arial', 'Helvetica', 'Avant Garde', sans-serif; text-anchor: middle" x="620.072549" y="503.013578" transform="rotate(-0 620.072549 503.013578)">5</text>
     </g>
    </g>
    <g id="text_29">
     
     <g transform="translate(505.21 540.722672)">
      <text>
       <tspan x="0" y="-0.6875" style="font-style: oblique; font-size: 28.3px; font-family: 'DejaVu Sans'">x</tspan>
      </text>
     </g>
    </g>
   </g>
   <g id="matplotlib.axis_8">
    <g id="ytick_9">
     <g id="line2d_28">
      <g>
       <use xlink:href="#mf63c6ea9cd" x="405.2" y="459.571154" style="stroke: #000000; stroke-width: 2.264"/>
      </g>
     </g>
     <g id="text_30">
      <text style="font-size: 28.3px; font-family: 'DejaVu Sans', 'Bitstream Vera Sans', 'Computer Modern Sans Serif', 'Lucida Grande', 'Verdana', 'Geneva', 'Lucid', 'Arial', 'Helvetica', 'Avant Garde', sans-serif; text-anchor: end" x="385.39" y="470.322943" transform="rotate(-0 385.39 470.322943)">0</text>
     </g>
    </g>
    <g id="ytick_10">
     <g id="line2d_29">
      <g>
       <use xlink:href="#mf63c6ea9cd" x="405.2" y="353.128846" style="stroke: #000000; stroke-width: 2.264"/>
      </g>
     </g>
     <g id="text_31">
      <text style="font-size: 28.3px; font-family: 'DejaVu Sans', 'Bitstream Vera Sans', 'Computer Modern Sans Serif', 'Lucida Grande', 'Verdana', 'Geneva', 'Lucid', 'Arial', 'Helvetica', 'Avant Garde', sans-serif; text-anchor: end" x="385.39" y="363.880635" transform="rotate(-0 385.39 363.880635)">5</text>
     </g>
    </g>
    <g id="text_32">
     
     <g transform="translate(349.272125 457.1485) rotate(-90)">
      <text>
       <tspan x="0" y="-0.609375" style="font-size: 28.3px; font-family: 'DejaVu Sans'">|</tspan>
       <tspan x="27.422363" y="-0.609375" style="font-size: 28.3px; font-family: 'DejaVu Sans'">(</tspan>
       <tspan x="55.161987" y="-0.609375" style="font-size: 28.3px; font-family: 'DejaVu Sans'">,</tspan>
       <tspan x="80.722168" y="-0.609375" style="font-size: 28.3px; font-family: 'DejaVu Sans'">)</tspan>
       <tspan x="91.74353" y="-0.609375" style="font-size: 28.3px; font-family: 'DejaVu Sans'">|</tspan>
       <tspan x="9.517822" y="-0.609375" style="font-style: oblique; font-size: 28.3px; font-family: 'DejaVu Sans'">u</tspan>
       <tspan x="38.443726" y="-0.609375" style="font-style: oblique; font-size: 28.3px; font-family: 'DejaVu Sans'">x</tspan>
       <tspan x="69.64563" y="-0.609375" style="font-style: oblique; font-size: 28.3px; font-family: 'DejaVu Sans'">t</tspan>
      </text>
     </g>
    </g>
   </g>
   <g id="line2d_30">
    <path d="M 407.327451 458.649409 
L 417.539216 458.529117 
L 425.623529 458.228245 
L 432.856863 457.750256 
L 438.813725 457.149572 
L 444.983333 456.313139 
L 450.514706 455.303259 
L 455.833333 454.120375 
L 461.364706 452.617751 
L 467.108824 450.799362 
L 474.554902 448.211969 
L 479.022549 446.761484 
L 481.788235 446.063082 
L 484.128431 445.702782 
L 486.043137 445.633729 
L 487.745098 445.785626 
L 489.234314 446.133838 
L 490.723529 446.733862 
L 492 447.483697 
L 493.276471 448.491548 
L 494.552941 449.805214 
L 495.829412 451.480232 
L 497.105882 453.589725 
L 498.382353 456.221834 
L 499.658824 459.269209 
L 499.871569 459.055929 
L 500.935294 455.666181 
L 502.211765 450.760579 
L 503.488235 444.772521 
L 504.764706 437.517761 
L 506.041176 428.841987 
L 507.530392 416.909585 
L 510.083333 393.80628 
L 511.359804 383.449983 
L 512.210784 378.2766 
L 512.84902 375.727716 
L 513.27451 374.769289 
L 513.7 374.443249 
L 513.912745 374.52584 
L 514.338235 375.171036 
L 514.763725 376.434758 
L 515.401961 379.39649 
L 516.252941 385.000301 
L 517.316667 393.80628 
L 521.146078 427.253084 
L 522.422549 436.173144 
L 523.69902 443.655916 
L 524.97549 449.84258 
L 526.251961 454.915859 
L 527.528431 459.055929 
L 527.741176 459.269209 
L 528.166667 458.314978 
L 529.443137 455.280907 
L 530.719608 452.83289 
L 531.996078 450.878063 
L 533.272549 449.330441 
L 534.54902 448.124086 
L 535.82549 447.207666 
L 537.101961 446.534352 
L 538.591176 446.010622 
L 540.080392 445.725917 
L 541.782353 445.62914 
L 543.697059 445.747628 
L 545.82451 446.107477 
L 548.377451 446.761484 
L 552.206863 447.99033 
L 565.184314 452.363137 
L 570.502941 453.850206 
L 575.396078 454.993495 
L 581.140196 456.09856 
L 585.820588 456.806378 
L 592.415686 457.559868 
L 599.223529 458.084736 
L 606.882353 458.44337 
L 614.966667 458.609671 
L 620.072549 458.649409 
L 620.072549 458.649409 
" clip-path="url(#p5f6ac95cbe)" style="fill: none; stroke: #2c5eb0; stroke-width: 5.66; stroke-linecap: square"/>
   </g>
   <g id="line2d_31">
    <path d="M 407.327451 458.649409 
L 417.539216 458.529117 
L 425.623529 458.228245 
L 432.856863 457.750256 
L 438.813725 457.149572 
L 444.983333 456.313139 
L 450.514706 455.303259 
L 455.833333 454.120375 
L 461.364706 452.617751 
L 467.108824 450.799362 
L 474.554902 448.211969 
L 479.022549 446.761484 
L 481.788235 446.063082 
L 484.128431 445.702782 
L 486.043137 445.633729 
L 487.745098 445.785626 
L 489.234314 446.133819 
L 490.723529 446.733198 
L 492 447.475612 
L 493.489216 448.608557 
L 495.616667 450.535715 
L 496.680392 451.759154 
L 497.531373 453.136454 
L 498.382353 455.021915 
L 499.658824 458.541428 
L 499.871569 458.418113 
L 500.935294 455.398513 
L 501.99902 451.569435 
L 503.062745 446.885892 
L 504.339216 440.097784 
L 505.615686 431.950838 
L 507.104902 420.744752 
L 511.359804 386.673847 
L 512.210784 382.302719 
L 512.84902 380.185513 
L 513.27451 379.395285 
L 513.7 379.126711 
L 513.912745 379.194869 
L 514.338235 379.726192 
L 514.763725 380.770431 
L 515.401961 383.240463 
L 516.040196 386.673847 
L 516.891176 392.451628 
L 518.380392 404.564076 
L 521.146078 427.359862 
L 522.635294 437.537331 
L 523.911765 444.768257 
L 525.188235 450.701416 
L 526.251961 454.700078 
L 527.315686 457.872754 
L 527.528431 458.418113 
L 527.741176 458.541428 
L 528.166667 457.406084 
L 529.230392 454.500632 
L 530.081373 452.747543 
L 530.932353 451.480416 
L 531.996078 450.326789 
L 534.123529 448.431807 
L 535.612745 447.336705 
L 537.101961 446.534094 
L 538.591176 446.010616 
L 540.080392 445.725917 
L 541.782353 445.62914 
L 543.697059 445.747628 
L 545.82451 446.107477 
L 548.377451 446.761484 
L 552.206863 447.99033 
L 565.184314 452.363137 
L 570.502941 453.850206 
L 575.396078 454.993495 
L 581.140196 456.09856 
L 585.820588 456.806378 
L 592.415686 457.559868 
L 599.223529 458.084736 
L 606.882353 458.44337 
L 614.966667 458.609671 
L 620.072549 458.649409 
L 620.072549 458.649409 
" clip-path="url(#p5f6ac95cbe)" style="fill: none; stroke-dasharray: 20.942,9.056; stroke-dashoffset: 0; stroke: #ea0252; stroke-width: 5.66"/>
   </g>
   <g id="patch_18">
    <path d="M 405.2 461.7 
L 405.2 351 
" style="fill: none; stroke: #000000; stroke-width: 2.264; stroke-linejoin: miter; stroke-linecap: square"/>
   </g>
   <g id="patch_19">
    <path d="M 622.2 461.7 
L 622.2 351 
" style="fill: none; stroke: #000000; stroke-width: 2.264; stroke-linejoin: miter; stroke-linecap: square"/>
   </g>
   <g id="patch_20">
    <path d="M 405.2 461.7 
L 622.2 461.7 
" style="fill: none; stroke: #000000; stroke-width: 2.264; stroke-linejoin: miter; stroke-linecap: square"/>
   </g>
   <g id="patch_21">
    <path d="M 405.2 351 
L 622.2 351 
" style="fill: none; stroke: #000000; stroke-width: 2.264; stroke-linejoin: miter; stroke-linecap: square"/>
   </g>
   <g id="text_33">
    
    <g transform="translate(460.3545 332.92)">
     <text>
      <tspan x="0" y="-0.21875" style="font-style: oblique; font-size: 28.3px; font-family: 'DejaVu Sans'">t</tspan>
      <tspan x="16.580322" y="-0.21875" style="font-size: 28.3px; font-family: 'DejaVu Sans'">=</tspan>
      <tspan x="45.754517" y="-0.21875" style="font-size: 28.3px; font-family: 'DejaVu Sans'">0</tspan>
      <tspan x="63.728027" y="-0.21875" style="font-size: 28.3px; font-family: 'DejaVu Sans'">.</tspan>
      <tspan x="70.457886" y="-0.21875" style="font-size: 28.3px; font-family: 'DejaVu Sans'">7</tspan>
      <tspan x="88.431396" y="-0.21875" style="font-size: 28.3px; font-family: 'DejaVu Sans'">9</tspan>
     </text>
    </g>
   </g>
  </g>
  <g id="axes_5">
   <g id="patch_22">
    <path d="M 731.2 461.7 
L 948.2 461.7 
L 948.2 351 
L 731.2 351 
z
" style="fill: #ffffff"/>
   </g>
   <g id="matplotlib.axis_9">
    <g id="xtick_15">
     <g id="line2d_32">
      <g>
       <use xlink:href="#mcf7a19c459" x="733.327451" y="461.7" style="stroke: #000000; stroke-width: 2.264"/>
      </g>
     </g>
     <g id="text_34">
      <text style="font-size: 28.3px; font-family: 'DejaVu Sans', 'Bitstream Vera Sans', 'Computer Modern Sans Serif', 'Lucida Grande', 'Verdana', 'Geneva', 'Lucid', 'Arial', 'Helvetica', 'Avant Garde', sans-serif; text-anchor: middle" x="733.327451" y="503.013578" transform="rotate(-0 733.327451 503.013578)">−5</text>
     </g>
    </g>
    <g id="xtick_16">
     <g id="line2d_33">
      <g>
       <use xlink:href="#mcf7a19c459" x="839.7" y="461.7" style="stroke: #000000; stroke-width: 2.264"/>
      </g>
     </g>
     <g id="text_35">
      <text style="font-size: 28.3px; font-family: 'DejaVu Sans', 'Bitstream Vera Sans', 'Computer Modern Sans Serif', 'Lucida Grande', 'Verdana', 'Geneva', 'Lucid', 'Arial', 'Helvetica', 'Avant Garde', sans-serif; text-anchor: middle" x="839.7" y="503.013578" transform="rotate(-0 839.7 503.013578)">0</text>
     </g>
    </g>
    <g id="xtick_17">
     <g id="line2d_34">
      <g>
       <use xlink:href="#mcf7a19c459" x="946.072549" y="461.7" style="stroke: #000000; stroke-width: 2.264"/>
      </g>
     </g>
     <g id="text_36">
      <text style="font-size: 28.3px; font-family: 'DejaVu Sans', 'Bitstream Vera Sans', 'Computer Modern Sans Serif', 'Lucida Grande', 'Verdana', 'Geneva', 'Lucid', 'Arial', 'Helvetica', 'Avant Garde', sans-serif; text-anchor: middle" x="946.072549" y="503.013578" transform="rotate(-0 946.072549 503.013578)">5</text>
     </g>
    </g>
    <g id="text_37">
     
     <g transform="translate(831.21 540.722672)">
      <text>
       <tspan x="0" y="-0.6875" style="font-style: oblique; font-size: 28.3px; font-family: 'DejaVu Sans'">x</tspan>
      </text>
     </g>
    </g>
   </g>
   <g id="matplotlib.axis_10">
    <g id="ytick_11">
     <g id="line2d_35">
      <g>
       <use xlink:href="#mf63c6ea9cd" x="731.2" y="459.571154" style="stroke: #000000; stroke-width: 2.264"/>
      </g>
     </g>
     <g id="text_38">
      <text style="font-size: 28.3px; font-family: 'DejaVu Sans', 'Bitstream Vera Sans', 'Computer Modern Sans Serif', 'Lucida Grande', 'Verdana', 'Geneva', 'Lucid', 'Arial', 'Helvetica', 'Avant Garde', sans-serif; text-anchor: end" x="711.39" y="470.322943" transform="rotate(-0 711.39 470.322943)">0</text>
     </g>
    </g>
    <g id="ytick_12">
     <g id="line2d_36">
      <g>
       <use xlink:href="#mf63c6ea9cd" x="731.2" y="353.128846" style="stroke: #000000; stroke-width: 2.264"/>
      </g>
     </g>
     <g id="text_39">
      <text style="font-size: 28.3px; font-family: 'DejaVu Sans', 'Bitstream Vera Sans', 'Computer Modern Sans Serif', 'Lucida Grande', 'Verdana', 'Geneva', 'Lucid', 'Arial', 'Helvetica', 'Avant Garde', sans-serif; text-anchor: end" x="711.39" y="363.880635" transform="rotate(-0 711.39 363.880635)">5</text>
     </g>
    </g>
    <g id="text_40">
     
     <g transform="translate(675.272125 457.1485) rotate(-90)">
      <text>
       <tspan x="0" y="-0.609375" style="font-size: 28.3px; font-family: 'DejaVu Sans'">|</tspan>
       <tspan x="27.422363" y="-0.609375" style="font-size: 28.3px; font-family: 'DejaVu Sans'">(</tspan>
       <tspan x="55.161987" y="-0.609375" style="font-size: 28.3px; font-family: 'DejaVu Sans'">,</tspan>
       <tspan x="80.722168" y="-0.609375" style="font-size: 28.3px; font-family: 'DejaVu Sans'">)</tspan>
       <tspan x="91.74353" y="-0.609375" style="font-size: 28.3px; font-family: 'DejaVu Sans'">|</tspan>
       <tspan x="9.517822" y="-0.609375" style="font-style: oblique; font-size: 28.3px; font-family: 'DejaVu Sans'">u</tspan>
       <tspan x="38.443726" y="-0.609375" style="font-style: oblique; font-size: 28.3px; font-family: 'DejaVu Sans'">x</tspan>
       <tspan x="69.64563" y="-0.609375" style="font-style: oblique; font-size: 28.3px; font-family: 'DejaVu Sans'">t</tspan>
      </text>
     </g>
    </g>
   </g>
   <g id="line2d_37">
    <path d="M 733.327451 458.603366 
L 743.326471 458.485792 
L 751.623529 458.187857 
L 760.558824 457.58082 
L 766.941176 456.902002 
L 772.259804 456.11359 
L 777.578431 455.126397 
L 781.833333 454.144678 
L 786.726471 452.788031 
L 791.832353 451.135598 
L 797.789216 448.958075 
L 807.788235 445.255953 
L 810.979412 444.379672 
L 813.532353 443.90532 
L 816.085294 443.674693 
L 822.254902 443.341789 
L 823.318627 442.968818 
L 824.169608 442.473979 
L 825.020588 441.744027 
L 825.871569 440.726363 
L 826.722549 439.364449 
L 827.573529 437.61061 
L 828.637255 434.817297 
L 829.70098 431.314382 
L 830.764706 427.091637 
L 832.041176 421.131865 
L 833.743137 412.011281 
L 836.508824 396.993409 
L 837.572549 392.535521 
L 838.210784 390.56384 
L 838.84902 389.233484 
L 839.27451 388.738153 
L 839.7 388.57054 
L 840.12549 388.738153 
L 840.55098 389.233484 
L 840.976471 390.045297 
L 841.614706 391.812047 
L 842.465686 395.058694 
L 843.529412 400.187249 
L 845.656863 412.011281 
L 847.571569 422.186916 
L 849.060784 428.865892 
L 850.337255 433.502891 
L 851.40098 436.575438 
L 852.464706 438.964315 
L 853.315686 440.420153 
L 854.166667 441.518558 
L 855.017647 442.315801 
L 856.081373 442.968818 
L 857.145098 443.341789 
L 858.421569 443.551988 
L 860.54902 443.633975 
L 864.378431 443.743357 
L 866.718627 444.037834 
L 869.271569 444.586775 
L 872.462745 445.527283 
L 876.079412 446.826715 
L 888.418627 451.425277 
L 893.95 453.16406 
L 898.843137 454.462631 
L 903.098039 455.382318 
L 908.629412 456.355422 
L 913.735294 457.059844 
L 919.904902 457.672986 
L 927.138235 458.152882 
L 934.797059 458.455667 
L 944.796078 458.600749 
L 946.072549 458.603366 
L 946.072549 458.603366 
" clip-path="url(#p6a13ea9190)" style="fill: none; stroke: #2c5eb0; stroke-width: 5.66; stroke-linecap: square"/>
   </g>
   <g id="line2d_38">
    <path d="M 733.327451 458.603366 
L 743.326471 458.485792 
L 751.623529 458.187857 
L 760.558824 457.58082 
L 766.941176 456.902002 
L 772.259804 456.11359 
L 777.578431 455.126397 
L 781.833333 454.144678 
L 786.726471 452.788031 
L 791.832353 451.135598 
L 797.789216 448.958075 
L 807.788235 445.255953 
L 810.979412 444.379673 
L 813.532353 443.905393 
L 816.085294 443.676927 
L 818.85098 443.674287 
L 823.105882 443.72546 
L 824.169608 443.450661 
L 825.020588 442.961047 
L 825.658824 442.372713 
L 826.297059 441.548639 
L 827.148039 440.025608 
L 827.99902 437.975344 
L 828.85 435.391423 
L 829.913725 431.440021 
L 831.190196 425.755715 
L 832.679412 418.077846 
L 837.147059 394.168248 
L 837.998039 391.156754 
L 838.636275 389.603895 
L 839.061765 388.948792 
L 839.487255 388.617458 
L 839.912745 388.618996 
L 840.338235 388.953511 
L 840.763725 389.612111 
L 841.401961 391.171255 
L 842.040196 393.34756 
L 842.891176 397.0402 
L 844.167647 403.726496 
L 848.209804 425.862445 
L 849.69902 432.383453 
L 850.97549 436.923379 
L 852.039216 439.941106 
L 853.102941 442.268501 
L 853.953922 443.653732 
L 854.804902 444.651645 
L 855.655882 445.302124 
L 856.506863 445.655396 
L 857.357843 445.770595 
L 858.421569 445.669251 
L 859.910784 445.265488 
L 863.101961 444.320553 
L 864.803922 444.108697 
L 866.505882 444.144078 
L 868.420588 444.426461 
L 870.760784 445.007765 
L 873.951961 446.037401 
L 879.270588 448.058161 
L 887.142157 450.987925 
L 892.460784 452.723959 
L 897.353922 454.090455 
L 902.034314 455.170025 
L 907.565686 456.183613 
L 913.097059 456.982732 
L 919.053922 457.599446 
L 925.64902 458.070537 
L 933.946078 458.432603 
L 943.945098 458.596649 
L 946.072549 458.603366 
L 946.072549 458.603366 
" clip-path="url(#p6a13ea9190)" style="fill: none; stroke-dasharray: 20.942,9.056; stroke-dashoffset: 0; stroke: #ea0252; stroke-width: 5.66"/>
   </g>
   <g id="patch_23">
    <path d="M 731.2 461.7 
L 731.2 351 
" style="fill: none; stroke: #000000; stroke-width: 2.264; stroke-linejoin: miter; stroke-linecap: square"/>
   </g>
   <g id="patch_24">
    <path d="M 948.2 461.7 
L 948.2 351 
" style="fill: none; stroke: #000000; stroke-width: 2.264; stroke-linejoin: miter; stroke-linecap: square"/>
   </g>
   <g id="patch_25">
    <path d="M 731.2 461.7 
L 948.2 461.7 
" style="fill: none; stroke: #000000; stroke-width: 2.264; stroke-linejoin: miter; stroke-linecap: square"/>
   </g>
   <g id="patch_26">
    <path d="M 731.2 351 
L 948.2 351 
" style="fill: none; stroke: #000000; stroke-width: 2.264; stroke-linejoin: miter; stroke-linecap: square"/>
   </g>
   <g id="text_41">
    
    <g transform="translate(785.2225 332.92)">
     <text>
      <tspan x="0" y="-0.21875" style="font-style: oblique; font-size: 28.3px; font-family: 'DejaVu Sans'">t</tspan>
      <tspan x="16.580322" y="-0.21875" style="font-size: 28.3px; font-family: 'DejaVu Sans'">=</tspan>
      <tspan x="45.754517" y="-0.21875" style="font-size: 28.3px; font-family: 'DejaVu Sans'">0</tspan>
      <tspan x="63.728027" y="-0.21875" style="font-size: 28.3px; font-family: 'DejaVu Sans'">.</tspan>
      <tspan x="72.707886" y="-0.21875" style="font-size: 28.3px; font-family: 'DejaVu Sans'">9</tspan>
      <tspan x="90.681396" y="-0.21875" style="font-size: 28.3px; font-family: 'DejaVu Sans'">8</tspan>
     </text>
    </g>
   </g>
  </g>
  <g id="axes_6">
   <g id="patch_27">
    <path d="M 1188.5 204.7 
L 1903.4 204.7 
L 1903.4 39.8 
L 1188.5 39.8 
L 1188.5 204.7 
z
" style="fill: none; opacity: 0"/>
   </g>
   <g id="matplotlib.axis_11">
    <g id="xtick_18">
     <g id="line2d_39">
      <g>
       <use xlink:href="#mcf7a19c459" x="1188.5" y="204.7" style="stroke: #000000; stroke-width: 2.264"/>
      </g>
     </g>
     <g id="text_42">
      <text style="font-size: 28.3px; font-family: 'DejaVu Sans', 'Bitstream Vera Sans', 'Computer Modern Sans Serif', 'Lucida Grande', 'Verdana', 'Geneva', 'Lucid', 'Arial', 'Helvetica', 'Avant Garde', sans-serif; text-anchor: middle" x="1188.5" y="246.013578" transform="rotate(-0 1188.5 246.013578)">0.0</text>
     </g>
    </g>
    <g id="xtick_19">
     <g id="line2d_40">
      <g>
       <use xlink:href="#mcf7a19c459" x="1279.523895" y="204.7" style="stroke: #000000; stroke-width: 2.264"/>
      </g>
     </g>
     <g id="text_43">
      <text style="font-size: 28.3px; font-family: 'DejaVu Sans', 'Bitstream Vera Sans', 'Computer Modern Sans Serif', 'Lucida Grande', 'Verdana', 'Geneva', 'Lucid', 'Arial', 'Helvetica', 'Avant Garde', sans-serif; text-anchor: middle" x="1279.523895" y="246.013578" transform="rotate(-0 1279.523895 246.013578)">0.2</text>
     </g>
    </g>
    <g id="xtick_20">
     <g id="line2d_41">
      <g>
       <use xlink:href="#mcf7a19c459" x="1370.54779" y="204.7" style="stroke: #000000; stroke-width: 2.264"/>
      </g>
     </g>
     <g id="text_44">
      <text style="font-size: 28.3px; font-family: 'DejaVu Sans', 'Bitstream Vera Sans', 'Computer Modern Sans Serif', 'Lucida Grande', 'Verdana', 'Geneva', 'Lucid', 'Arial', 'Helvetica', 'Avant Garde', sans-serif; text-anchor: middle" x="1370.54779" y="246.013578" transform="rotate(-0 1370.54779 246.013578)">0.4</text>
     </g>
    </g>
    <g id="xtick_21">
     <g id="line2d_42">
      <g>
       <use xlink:href="#mcf7a19c459" x="1461.571685" y="204.7" style="stroke: #000000; stroke-width: 2.264"/>
      </g>
     </g>
     <g id="text_45">
      <text style="font-size: 28.3px; font-family: 'DejaVu Sans', 'Bitstream Vera Sans', 'Computer Modern Sans Serif', 'Lucida Grande', 'Verdana', 'Geneva', 'Lucid', 'Arial', 'Helvetica', 'Avant Garde', sans-serif; text-anchor: middle" x="1461.571685" y="246.013578" transform="rotate(-0 1461.571685 246.013578)">0.6</text>
     </g>
    </g>
    <g id="xtick_22">
     <g id="line2d_43">
      <g>
       <use xlink:href="#mcf7a19c459" x="1552.59558" y="204.7" style="stroke: #000000; stroke-width: 2.264"/>
      </g>
     </g>
     <g id="text_46">
      <text style="font-size: 28.3px; font-family: 'DejaVu Sans', 'Bitstream Vera Sans', 'Computer Modern Sans Serif', 'Lucida Grande', 'Verdana', 'Geneva', 'Lucid', 'Arial', 'Helvetica', 'Avant Garde', sans-serif; text-anchor: middle" x="1552.59558" y="246.013578" transform="rotate(-0 1552.59558 246.013578)">0.8</text>
     </g>
    </g>
    <g id="xtick_23">
     <g id="line2d_44">
      <g>
       <use xlink:href="#mcf7a19c459" x="1643.619475" y="204.7" style="stroke: #000000; stroke-width: 2.264"/>
      </g>
     </g>
     <g id="text_47">
      <text style="font-size: 28.3px; font-family: 'DejaVu Sans', 'Bitstream Vera Sans', 'Computer Modern Sans Serif', 'Lucida Grande', 'Verdana', 'Geneva', 'Lucid', 'Arial', 'Helvetica', 'Avant Garde', sans-serif; text-anchor: middle" x="1643.619475" y="246.013578" transform="rotate(-0 1643.619475 246.013578)">1.0</text>
     </g>
    </g>
    <g id="xtick_24">
     <g id="line2d_45">
      <g>
       <use xlink:href="#mcf7a19c459" x="1734.64337" y="204.7" style="stroke: #000000; stroke-width: 2.264"/>
      </g>
     </g>
     <g id="text_48">
      <text style="font-size: 28.3px; font-family: 'DejaVu Sans', 'Bitstream Vera Sans', 'Computer Modern Sans Serif', 'Lucida Grande', 'Verdana', 'Geneva', 'Lucid', 'Arial', 'Helvetica', 'Avant Garde', sans-serif; text-anchor: middle" x="1734.64337" y="246.013578" transform="rotate(-0 1734.64337 246.013578)">1.2</text>
     </g>
    </g>
    <g id="xtick_25">
     <g id="line2d_46">
      <g>
       <use xlink:href="#mcf7a19c459" x="1825.667265" y="204.7" style="stroke: #000000; stroke-width: 2.264"/>
      </g>
     </g>
     <g id="text_49">
      <text style="font-size: 28.3px; font-family: 'DejaVu Sans', 'Bitstream Vera Sans', 'Computer Modern Sans Serif', 'Lucida Grande', 'Verdana', 'Geneva', 'Lucid', 'Arial', 'Helvetica', 'Avant Garde', sans-serif; text-anchor: middle" x="1825.667265" y="246.013578" transform="rotate(-0 1825.667265 246.013578)">1.4</text>
     </g>
    </g>
    <g id="text_50">
     
     <g transform="translate(1540.29 282.422672)">
      <text>
       <tspan x="0" y="-0.34375" style="font-style: oblique; font-size: 28.3px; font-family: 'DejaVu Sans'">t</tspan>
      </text>
     </g>
    </g>
   </g>
   <g id="matplotlib.axis_12">
    <g id="ytick_13">
     <g id="line2d_47">
      <g>
       <use xlink:href="#mf63c6ea9cd" x="1188.5" y="204.7" style="stroke: #000000; stroke-width: 2.264"/>
      </g>
     </g>
     <g id="text_51">
      <text style="font-size: 28.3px; font-family: 'DejaVu Sans', 'Bitstream Vera Sans', 'Computer Modern Sans Serif', 'Lucida Grande', 'Verdana', 'Geneva', 'Lucid', 'Arial', 'Helvetica', 'Avant Garde', sans-serif; text-anchor: end" x="1168.69" y="215.451789" transform="rotate(-0 1168.69 215.451789)">−5</text>
     </g>
    </g>
    <g id="ytick_14">
     <g id="line2d_48">
      <g>
       <use xlink:href="#mf63c6ea9cd" x="1188.5" y="122.25" style="stroke: #000000; stroke-width: 2.264"/>
      </g>
     </g>
     <g id="text_52">
      <text style="font-size: 28.3px; font-family: 'DejaVu Sans', 'Bitstream Vera Sans', 'Computer Modern Sans Serif', 'Lucida Grande', 'Verdana', 'Geneva', 'Lucid', 'Arial', 'Helvetica', 'Avant Garde', sans-serif; text-anchor: end" x="1168.69" y="133.001789" transform="rotate(-0 1168.69 133.001789)">0</text>
     </g>
    </g>
    <g id="ytick_15">
     <g id="line2d_49">
      <g>
       <use xlink:href="#mf63c6ea9cd" x="1188.5" y="39.8" style="stroke: #000000; stroke-width: 2.264"/>
      </g>
     </g>
     <g id="text_53">
      <text style="font-size: 28.3px; font-family: 'DejaVu Sans', 'Bitstream Vera Sans', 'Computer Modern Sans Serif', 'Lucida Grande', 'Verdana', 'Geneva', 'Lucid', 'Arial', 'Helvetica', 'Avant Garde', sans-serif; text-anchor: end" x="1168.69" y="50.551789" transform="rotate(-0 1168.69 50.551789)">5</text>
     </g>
    </g>
    <g id="text_54">
     
     <g transform="translate(1109.764094 130.74) rotate(-90)">
      <text>
       <tspan x="0" y="-0.6875" style="font-style: oblique; font-size: 28.3px; font-family: 'DejaVu Sans'">x</tspan>
      </text>
     </g>
    </g>
   </g>
   <g id="line2d_50">
    <path d="M 1456.5875 206.1 
L 1456.5875 39.8 
" clip-path="url(#p50bc3a27e3)" style="fill: none; stroke-dasharray: 10.471,4.528; stroke-dashoffset: 0; stroke: #000000; stroke-width: 2.83"/>
   </g>
   <g id="line2d_51">
    <path d="M 1545.95 206.1 
L 1545.95 39.8 
" clip-path="url(#p50bc3a27e3)" style="fill: none; stroke-dasharray: 10.471,4.528; stroke-dashoffset: 0; stroke: #000000; stroke-width: 2.83"/>
   </g>
   <g id="line2d_52">
    <path d="M 1635.3125 206.1 
L 1635.3125 39.8 
" clip-path="url(#p50bc3a27e3)" style="fill: none; stroke-dasharray: 10.471,4.528; stroke-dashoffset: 0; stroke: #000000; stroke-width: 2.83"/>
   </g>
   <g id="patch_28">
    <path d="M 1188.5 204.7 
L 1188.5 39.8 
" style="fill: none; stroke: #000000; stroke-width: 2.264; stroke-linejoin: miter; stroke-linecap: square"/>
   </g>
   <g id="patch_29">
    <path d="M 1903.4 204.7 
L 1903.4 39.8 
" style="fill: none; stroke: #000000; stroke-width: 2.264; stroke-linejoin: miter; stroke-linecap: square"/>
   </g>
   <g id="patch_30">
    <path d="M 1188.5 204.7 
L 1903.4 204.7 
" style="fill: none; stroke: #000000; stroke-width: 2.264; stroke-linejoin: miter; stroke-linecap: square"/>
   </g>
   <g id="patch_31">
    <path d="M 1188.5 39.8 
L 1903.4 39.8 
" style="fill: none; stroke: #000000; stroke-width: 2.264; stroke-linejoin: miter; stroke-linecap: square"/>
   </g>
   <g id="text_55">
    
    <g transform="translate(1495.1515 23.12)">
     <text>
      <tspan x="0" y="-0.609375" style="font-size: 28.3px; font-family: 'DejaVu Sans'">|</tspan>
      <tspan x="27.422363" y="-0.609375" style="font-size: 28.3px; font-family: 'DejaVu Sans'">(</tspan>
      <tspan x="55.161987" y="-0.609375" style="font-size: 28.3px; font-family: 'DejaVu Sans'">,</tspan>
      <tspan x="80.722168" y="-0.609375" style="font-size: 28.3px; font-family: 'DejaVu Sans'">)</tspan>
      <tspan x="91.74353" y="-0.609375" style="font-size: 28.3px; font-family: 'DejaVu Sans'">|</tspan>
      <tspan x="9.517822" y="-0.609375" style="font-style: oblique; font-size: 28.3px; font-family: 'DejaVu Sans'">u</tspan>
      <tspan x="38.443726" y="-0.609375" style="font-style: oblique; font-size: 28.3px; font-family: 'DejaVu Sans'">x</tspan>
      <tspan x="69.64563" y="-0.609375" style="font-style: oblique; font-size: 28.3px; font-family: 'DejaVu Sans'">t</tspan>
     </text>
    </g>
   </g>
  </g>
  <g id="axes_7">
   <g id="patch_32">
    <path d="M 1913.5 204.7 
L 1949.2 204.7 
L 1949.2 39.8 
L 1913.5 39.8 
L 1913.5 204.7 
z
" style="fill: none; opacity: 0"/>
   </g>
   <g id="matplotlib.axis_13"/>
   <g id="matplotlib.axis_14">
    <g id="ytick_16">
     <g id="line2d_53">
      <g>
       <use xlink:href="#m900f18a0e5" x="1949.2" y="204.7" style="stroke: #000000; stroke-width: 2.264"/>
      </g>
     </g>
     <g id="text_56">
      <text style="font-size: 28.3px; font-family: 'DejaVu Sans', 'Bitstream Vera Sans', 'Computer Modern Sans Serif', 'Lucida Grande', 'Verdana', 'Geneva', 'Lucid', 'Arial', 'Helvetica', 'Avant Garde', sans-serif; text-anchor: start" x="1969.01" y="215.451789" transform="rotate(-0 1969.01 215.451789)">0</text>
     </g>
    </g>
    <g id="ytick_17">
     <g id="line2d_54">
      <g>
       <use xlink:href="#m900f18a0e5" x="1949.2" y="122.25" style="stroke: #000000; stroke-width: 2.264"/>
      </g>
     </g>
     <g id="text_57">
      <text style="font-size: 28.3px; font-family: 'DejaVu Sans', 'Bitstream Vera Sans', 'Computer Modern Sans Serif', 'Lucida Grande', 'Verdana', 'Geneva', 'Lucid', 'Arial', 'Helvetica', 'Avant Garde', sans-serif; text-anchor: start" x="1969.01" y="133.001789" transform="rotate(-0 1969.01 133.001789)">2</text>
     </g>
    </g>
    <g id="ytick_18">
     <g id="line2d_55">
      <g>
       <use xlink:href="#m900f18a0e5" x="1949.2" y="39.8" style="stroke: #000000; stroke-width: 2.264"/>
      </g>
     </g>
     <g id="text_58">
      <text style="font-size: 28.3px; font-family: 'DejaVu Sans', 'Bitstream Vera Sans', 'Computer Modern Sans Serif', 'Lucida Grande', 'Verdana', 'Geneva', 'Lucid', 'Arial', 'Helvetica', 'Avant Garde', sans-serif; text-anchor: start" x="1969.01" y="50.551789" transform="rotate(-0 1969.01 50.551789)">4</text>
     </g>
    </g>
   </g>
   <g id="patch_33">
    <path d="M 1913.5 204.7 
L 1913.5 39.8 
" style="fill: none; stroke: #000000; stroke-width: 2.264; stroke-linejoin: miter; stroke-linecap: square"/>
   </g>
   <g id="patch_34">
    <path d="M 1949.2 204.7 
L 1949.2 39.8 
" style="fill: none; stroke: #000000; stroke-width: 2.264; stroke-linejoin: miter; stroke-linecap: square"/>
   </g>
   <g id="patch_35">
    <path d="M 1913.5 204.7 
L 1949.2 204.7 
" style="fill: none; stroke: #000000; stroke-width: 2.264; stroke-linejoin: miter; stroke-linecap: square"/>
   </g>
   <g id="patch_36">
    <path d="M 1913.5 39.8 
L 1949.2 39.8 
" style="fill: none; stroke: #000000; stroke-width: 2.264; stroke-linejoin: miter; stroke-linecap: square"/>
   </g>
  </g>
  <g id="axes_8">
   <g id="patch_37">
    <path d="M 1134.7 461.7 
L 1351.7 461.7 
L 1351.7 351 
L 1134.7 351 
z
" style="fill: #ffffff"/>
   </g>
   <g id="matplotlib.axis_15">
    <g id="xtick_26">
     <g id="line2d_56">
      <g>
       <use xlink:href="#mcf7a19c459" x="1136.827451" y="461.7" style="stroke: #000000; stroke-width: 2.264"/>
      </g>
     </g>
     <g id="text_59">
      <text style="font-size: 28.3px; font-family: 'DejaVu Sans', 'Bitstream Vera Sans', 'Computer Modern Sans Serif', 'Lucida Grande', 'Verdana', 'Geneva', 'Lucid', 'Arial', 'Helvetica', 'Avant Garde', sans-serif; text-anchor: middle" x="1136.827451" y="503.013578" transform="rotate(-0 1136.827451 503.013578)">−5</text>
     </g>
    </g>
    <g id="xtick_27">
     <g id="line2d_57">
      <g>
       <use xlink:href="#mcf7a19c459" x="1243.2" y="461.7" style="stroke: #000000; stroke-width: 2.264"/>
      </g>
     </g>
     <g id="text_60">
      <text style="font-size: 28.3px; font-family: 'DejaVu Sans', 'Bitstream Vera Sans', 'Computer Modern Sans Serif', 'Lucida Grande', 'Verdana', 'Geneva', 'Lucid', 'Arial', 'Helvetica', 'Avant Garde', sans-serif; text-anchor: middle" x="1243.2" y="503.013578" transform="rotate(-0 1243.2 503.013578)">0</text>
     </g>
    </g>
    <g id="xtick_28">
     <g id="line2d_58">
      <g>
       <use xlink:href="#mcf7a19c459" x="1349.572549" y="461.7" style="stroke: #000000; stroke-width: 2.264"/>
      </g>
     </g>
     <g id="text_61">
      <text style="font-size: 28.3px; font-family: 'DejaVu Sans', 'Bitstream Vera Sans', 'Computer Modern Sans Serif', 'Lucida Grande', 'Verdana', 'Geneva', 'Lucid', 'Arial', 'Helvetica', 'Avant Garde', sans-serif; text-anchor: middle" x="1349.572549" y="503.013578" transform="rotate(-0 1349.572549 503.013578)">5</text>
     </g>
    </g>
    <g id="text_62">
     
     <g transform="translate(1234.71 540.722672)">
      <text>
       <tspan x="0" y="-0.6875" style="font-style: oblique; font-size: 28.3px; font-family: 'DejaVu Sans'">x</tspan>
      </text>
     </g>
    </g>
   </g>
   <g id="matplotlib.axis_16">
    <g id="ytick_19">
     <g id="line2d_59">
      <g>
       <use xlink:href="#mf63c6ea9cd" x="1134.7" y="459.571154" style="stroke: #000000; stroke-width: 2.264"/>
      </g>
     </g>
     <g id="text_63">
      <text style="font-size: 28.3px; font-family: 'DejaVu Sans', 'Bitstream Vera Sans', 'Computer Modern Sans Serif', 'Lucida Grande', 'Verdana', 'Geneva', 'Lucid', 'Arial', 'Helvetica', 'Avant Garde', sans-serif; text-anchor: end" x="1114.89" y="470.322943" transform="rotate(-0 1114.89 470.322943)">0</text>
     </g>
    </g>
    <g id="ytick_20">
     <g id="line2d_60">
      <g>
       <use xlink:href="#mf63c6ea9cd" x="1134.7" y="353.128846" style="stroke: #000000; stroke-width: 2.264"/>
      </g>
     </g>
     <g id="text_64">
      <text style="font-size: 28.3px; font-family: 'DejaVu Sans', 'Bitstream Vera Sans', 'Computer Modern Sans Serif', 'Lucida Grande', 'Verdana', 'Geneva', 'Lucid', 'Arial', 'Helvetica', 'Avant Garde', sans-serif; text-anchor: end" x="1114.89" y="363.880635" transform="rotate(-0 1114.89 363.880635)">5</text>
     </g>
    </g>
    <g id="text_65">
     
     <g transform="translate(1078.772125 457.1485) rotate(-90)">
      <text>
       <tspan x="0" y="-0.609375" style="font-size: 28.3px; font-family: 'DejaVu Sans'">|</tspan>
       <tspan x="27.422363" y="-0.609375" style="font-size: 28.3px; font-family: 'DejaVu Sans'">(</tspan>
       <tspan x="55.161987" y="-0.609375" style="font-size: 28.3px; font-family: 'DejaVu Sans'">,</tspan>
       <tspan x="80.722168" y="-0.609375" style="font-size: 28.3px; font-family: 'DejaVu Sans'">)</tspan>
       <tspan x="91.74353" y="-0.609375" style="font-size: 28.3px; font-family: 'DejaVu Sans'">|</tspan>
       <tspan x="9.517822" y="-0.609375" style="font-style: oblique; font-size: 28.3px; font-family: 'DejaVu Sans'">u</tspan>
       <tspan x="38.443726" y="-0.609375" style="font-style: oblique; font-size: 28.3px; font-family: 'DejaVu Sans'">x</tspan>
       <tspan x="69.64563" y="-0.609375" style="font-style: oblique; font-size: 28.3px; font-family: 'DejaVu Sans'">t</tspan>
      </text>
     </g>
    </g>
   </g>
   <g id="line2d_61">
    <path d="M 1136.827451 458.695258 
L 1146.613725 458.584995 
L 1154.059804 458.314852 
L 1160.654902 457.893486 
L 1167.25 457.255969 
L 1173.206863 456.45245 
L 1178.52549 455.541651 
L 1184.482353 454.278424 
L 1189.588235 452.960214 
L 1194.694118 451.401213 
L 1198.94902 449.901075 
L 1207.246078 446.679196 
L 1211.50098 445.166724 
L 1214.266667 444.397672 
L 1216.819608 443.91092 
L 1219.159804 443.685365 
L 1222.563725 443.622766 
L 1224.903922 443.508249 
L 1226.180392 443.229287 
L 1227.244118 442.75654 
L 1228.095098 442.153392 
L 1228.946078 441.286279 
L 1229.797059 440.099995 
L 1230.648039 438.543992 
L 1231.49902 436.577041 
L 1232.562745 433.495785 
L 1233.626471 429.696473 
L 1234.902941 424.202992 
L 1236.392157 416.673443 
L 1240.647059 394.177836 
L 1241.498039 391.180263 
L 1242.136275 389.635161 
L 1242.561765 388.985063 
L 1242.987255 388.655156 
L 1243.412745 388.655156 
L 1243.838235 388.985063 
L 1244.263725 389.635161 
L 1244.901961 391.180263 
L 1245.540196 393.338693 
L 1246.391176 396.997832 
L 1247.667647 403.610939 
L 1251.284314 423.194682 
L 1252.560784 428.850621 
L 1253.837255 433.495785 
L 1254.90098 436.577041 
L 1255.964706 438.970073 
L 1256.815686 440.429341 
L 1257.666667 441.53098 
L 1258.517647 442.326266 
L 1259.581373 442.978822 
L 1260.645098 443.350394 
L 1261.921569 443.555127 
L 1264.04902 443.623288 
L 1267.878431 443.725392 
L 1270.218627 444.009783 
L 1272.771569 444.554934 
L 1275.537255 445.374062 
L 1279.579412 446.842031 
L 1291.705882 451.401213 
L 1296.811765 452.960214 
L 1301.704902 454.228237 
L 1307.023529 455.37354 
L 1311.916667 456.254045 
L 1318.086275 457.128959 
L 1324.255882 457.770092 
L 1331.276471 458.262374 
L 1339.573529 458.58039 
L 1349.572549 458.695258 
L 1349.572549 458.695258 
" clip-path="url(#p88f04b7178)" style="fill: none; stroke: #2c5eb0; stroke-width: 5.66; stroke-linecap: square"/>
   </g>
   <g id="line2d_62">
    <path d="M 1136.827451 458.695258 
L 1146.613725 458.584995 
L 1154.059804 458.314852 
L 1160.654902 457.893486 
L 1167.25 457.255969 
L 1173.206863 456.45245 
L 1178.52549 455.541651 
L 1184.482353 454.278424 
L 1189.588235 452.960214 
L 1194.694118 451.401219 
L 1198.94902 449.901367 
L 1215.968627 443.441555 
L 1217.883333 442.392823 
L 1219.372549 441.391688 
L 1220.861765 440.098344 
L 1222.563725 438.287166 
L 1224.478431 435.904436 
L 1227.456863 431.784881 
L 1231.286275 426.557938 
L 1233.413725 424.031852 
L 1235.328431 422.118883 
L 1237.030392 420.75208 
L 1238.519608 419.833978 
L 1240.008824 419.185444 
L 1241.285294 418.848021 
L 1242.561765 418.713511 
L 1243.838235 418.781533 
L 1245.114706 419.050409 
L 1246.603922 419.613982 
L 1248.093137 420.439907 
L 1249.582353 421.518067 
L 1251.284314 423.040653 
L 1253.19902 425.087177 
L 1255.326471 427.702125 
L 1258.517647 432.03256 
L 1262.134314 436.8823 
L 1264.04902 439.115614 
L 1265.75098 440.775519 
L 1267.240196 441.93292 
L 1268.729412 442.804033 
L 1270.644118 443.737253 
L 1273.197059 444.688097 
L 1281.068627 447.438783 
L 1291.705882 451.401219 
L 1296.811765 452.960214 
L 1301.704902 454.228237 
L 1307.023529 455.37354 
L 1311.916667 456.254045 
L 1318.086275 457.128959 
L 1324.255882 457.770092 
L 1331.276471 458.262374 
L 1339.573529 458.58039 
L 1349.572549 458.695258 
L 1349.572549 458.695258 
" clip-path="url(#p88f04b7178)" style="fill: none; stroke-dasharray: 20.942,9.056; stroke-dashoffset: 0; stroke: #ea0252; stroke-width: 5.66"/>
   </g>
   <g id="patch_38">
    <path d="M 1134.7 461.7 
L 1134.7 351 
" style="fill: none; stroke: #000000; stroke-width: 2.264; stroke-linejoin: miter; stroke-linecap: square"/>
   </g>
   <g id="patch_39">
    <path d="M 1351.7 461.7 
L 1351.7 351 
" style="fill: none; stroke: #000000; stroke-width: 2.264; stroke-linejoin: miter; stroke-linecap: square"/>
   </g>
   <g id="patch_40">
    <path d="M 1134.7 461.7 
L 1351.7 461.7 
" style="fill: none; stroke: #000000; stroke-width: 2.264; stroke-linejoin: miter; stroke-linecap: square"/>
   </g>
   <g id="patch_41">
    <path d="M 1134.7 351 
L 1351.7 351 
" style="fill: none; stroke: #000000; stroke-width: 2.264; stroke-linejoin: miter; stroke-linecap: square"/>
   </g>
   <g id="text_66">
    
    <g transform="translate(1189.43 332.92)">
     <text>
      <tspan x="0" y="-0.21875" style="font-style: oblique; font-size: 28.3px; font-family: 'DejaVu Sans'">t</tspan>
      <tspan x="16.580322" y="-0.21875" style="font-size: 28.3px; font-family: 'DejaVu Sans'">=</tspan>
      <tspan x="45.754517" y="-0.21875" style="font-size: 28.3px; font-family: 'DejaVu Sans'">0</tspan>
      <tspan x="63.728027" y="-0.21875" style="font-size: 28.3px; font-family: 'DejaVu Sans'">.</tspan>
      <tspan x="72.707886" y="-0.21875" style="font-size: 28.3px; font-family: 'DejaVu Sans'">5</tspan>
      <tspan x="89.181396" y="-0.21875" style="font-size: 28.3px; font-family: 'DejaVu Sans'">9</tspan>
     </text>
    </g>
   </g>
  </g>
  <g id="axes_9">
   <g id="patch_42">
    <path d="M 1460.5 461.7 
L 1677.5 461.7 
L 1677.5 351 
L 1460.5 351 
z
" style="fill: #ffffff"/>
   </g>
   <g id="matplotlib.axis_17">
    <g id="xtick_29">
     <g id="line2d_63">
      <g>
       <use xlink:href="#mcf7a19c459" x="1462.627451" y="461.7" style="stroke: #000000; stroke-width: 2.264"/>
      </g>
     </g>
     <g id="text_67">
      <text style="font-size: 28.3px; font-family: 'DejaVu Sans', 'Bitstream Vera Sans', 'Computer Modern Sans Serif', 'Lucida Grande', 'Verdana', 'Geneva', 'Lucid', 'Arial', 'Helvetica', 'Avant Garde', sans-serif; text-anchor: middle" x="1462.627451" y="503.013578" transform="rotate(-0 1462.627451 503.013578)">−5</text>
     </g>
    </g>
    <g id="xtick_30">
     <g id="line2d_64">
      <g>
       <use xlink:href="#mcf7a19c459" x="1569" y="461.7" style="stroke: #000000; stroke-width: 2.264"/>
      </g>
     </g>
     <g id="text_68">
      <text style="font-size: 28.3px; font-family: 'DejaVu Sans', 'Bitstream Vera Sans', 'Computer Modern Sans Serif', 'Lucida Grande', 'Verdana', 'Geneva', 'Lucid', 'Arial', 'Helvetica', 'Avant Garde', sans-serif; text-anchor: middle" x="1569" y="503.013578" transform="rotate(-0 1569 503.013578)">0</text>
     </g>
    </g>
    <g id="xtick_31">
     <g id="line2d_65">
      <g>
       <use xlink:href="#mcf7a19c459" x="1675.372549" y="461.7" style="stroke: #000000; stroke-width: 2.264"/>
      </g>
     </g>
     <g id="text_69">
      <text style="font-size: 28.3px; font-family: 'DejaVu Sans', 'Bitstream Vera Sans', 'Computer Modern Sans Serif', 'Lucida Grande', 'Verdana', 'Geneva', 'Lucid', 'Arial', 'Helvetica', 'Avant Garde', sans-serif; text-anchor: middle" x="1675.372549" y="503.013578" transform="rotate(-0 1675.372549 503.013578)">5</text>
     </g>
    </g>
    <g id="text_70">
     
     <g transform="translate(1560.51 540.722672)">
      <text>
       <tspan x="0" y="-0.6875" style="font-style: oblique; font-size: 28.3px; font-family: 'DejaVu Sans'">x</tspan>
      </text>
     </g>
    </g>
   </g>
   <g id="matplotlib.axis_18">
    <g id="ytick_21">
     <g id="line2d_66">
      <g>
       <use xlink:href="#mf63c6ea9cd" x="1460.5" y="459.571154" style="stroke: #000000; stroke-width: 2.264"/>
      </g>
     </g>
     <g id="text_71">
      <text style="font-size: 28.3px; font-family: 'DejaVu Sans', 'Bitstream Vera Sans', 'Computer Modern Sans Serif', 'Lucida Grande', 'Verdana', 'Geneva', 'Lucid', 'Arial', 'Helvetica', 'Avant Garde', sans-serif; text-anchor: end" x="1440.69" y="470.322943" transform="rotate(-0 1440.69 470.322943)">0</text>
     </g>
    </g>
    <g id="ytick_22">
     <g id="line2d_67">
      <g>
       <use xlink:href="#mf63c6ea9cd" x="1460.5" y="353.128846" style="stroke: #000000; stroke-width: 2.264"/>
      </g>
     </g>
     <g id="text_72">
      <text style="font-size: 28.3px; font-family: 'DejaVu Sans', 'Bitstream Vera Sans', 'Computer Modern Sans Serif', 'Lucida Grande', 'Verdana', 'Geneva', 'Lucid', 'Arial', 'Helvetica', 'Avant Garde', sans-serif; text-anchor: end" x="1440.69" y="363.880635" transform="rotate(-0 1440.69 363.880635)">5</text>
     </g>
    </g>
    <g id="text_73">
     
     <g transform="translate(1404.572125 457.1485) rotate(-90)">
      <text>
       <tspan x="0" y="-0.609375" style="font-size: 28.3px; font-family: 'DejaVu Sans'">|</tspan>
       <tspan x="27.422363" y="-0.609375" style="font-size: 28.3px; font-family: 'DejaVu Sans'">(</tspan>
       <tspan x="55.161987" y="-0.609375" style="font-size: 28.3px; font-family: 'DejaVu Sans'">,</tspan>
       <tspan x="80.722168" y="-0.609375" style="font-size: 28.3px; font-family: 'DejaVu Sans'">)</tspan>
       <tspan x="91.74353" y="-0.609375" style="font-size: 28.3px; font-family: 'DejaVu Sans'">|</tspan>
       <tspan x="9.517822" y="-0.609375" style="font-style: oblique; font-size: 28.3px; font-family: 'DejaVu Sans'">u</tspan>
       <tspan x="38.443726" y="-0.609375" style="font-style: oblique; font-size: 28.3px; font-family: 'DejaVu Sans'">x</tspan>
       <tspan x="69.64563" y="-0.609375" style="font-style: oblique; font-size: 28.3px; font-family: 'DejaVu Sans'">t</tspan>
      </text>
     </g>
    </g>
   </g>
   <g id="line2d_68">
    <path d="M 1462.627451 458.649409 
L 1472.839216 458.529117 
L 1480.923529 458.228245 
L 1488.156863 457.750256 
L 1494.113725 457.149572 
L 1500.283333 456.313139 
L 1505.814706 455.303259 
L 1511.133333 454.120375 
L 1516.664706 452.617751 
L 1522.408824 450.799362 
L 1529.854902 448.211969 
L 1534.322549 446.761484 
L 1537.088235 446.063082 
L 1539.428431 445.702782 
L 1541.343137 445.633729 
L 1543.045098 445.785626 
L 1544.534314 446.133838 
L 1546.023529 446.733862 
L 1547.3 447.483697 
L 1548.576471 448.491548 
L 1549.852941 449.805214 
L 1551.129412 451.480232 
L 1552.405882 453.589725 
L 1553.682353 456.221834 
L 1554.958824 459.269209 
L 1555.171569 459.055929 
L 1556.235294 455.666181 
L 1557.511765 450.760579 
L 1558.788235 444.772521 
L 1560.064706 437.517761 
L 1561.341176 428.841987 
L 1562.830392 416.909585 
L 1565.383333 393.80628 
L 1566.659804 383.449983 
L 1567.510784 378.2766 
L 1568.14902 375.727716 
L 1568.57451 374.769289 
L 1569 374.443249 
L 1569.212745 374.52584 
L 1569.638235 375.171036 
L 1570.063725 376.434758 
L 1570.701961 379.39649 
L 1571.552941 385.000301 
L 1572.616667 393.80628 
L 1576.446078 427.253084 
L 1577.722549 436.173144 
L 1578.99902 443.655916 
L 1580.27549 449.84258 
L 1581.551961 454.915859 
L 1582.828431 459.055929 
L 1583.041176 459.269209 
L 1583.466667 458.314978 
L 1584.743137 455.280907 
L 1586.019608 452.83289 
L 1587.296078 450.878063 
L 1588.572549 449.330441 
L 1589.84902 448.124086 
L 1591.12549 447.207666 
L 1592.401961 446.534352 
L 1593.891176 446.010622 
L 1595.380392 445.725917 
L 1597.082353 445.62914 
L 1598.997059 445.747628 
L 1601.12451 446.107477 
L 1603.677451 446.761484 
L 1607.506863 447.99033 
L 1620.484314 452.363137 
L 1625.802941 453.850206 
L 1630.696078 454.993495 
L 1636.440196 456.09856 
L 1641.120588 456.806378 
L 1647.715686 457.559868 
L 1654.523529 458.084736 
L 1662.182353 458.44337 
L 1670.266667 458.609671 
L 1675.372549 458.649409 
L 1675.372549 458.649409 
" clip-path="url(#p2c98a660e4)" style="fill: none; stroke: #2c5eb0; stroke-width: 5.66; stroke-linecap: square"/>
   </g>
   <g id="line2d_69">
    <path d="M 1462.627451 458.649409 
L 1472.839216 458.529117 
L 1480.923529 458.228245 
L 1488.156863 457.750256 
L 1494.113725 457.149572 
L 1500.283333 456.313139 
L 1505.814706 455.303259 
L 1511.133333 454.120375 
L 1516.664706 452.617751 
L 1522.408824 450.799472 
L 1533.684314 447.159396 
L 1535.811765 446.801643 
L 1537.726471 446.690544 
L 1540.066667 446.780124 
L 1543.045098 446.891325 
L 1543.896078 446.763992 
L 1545.172549 446.288928 
L 1546.236275 445.670855 
L 1547.3 444.827174 
L 1548.576471 443.496945 
L 1549.852941 441.811441 
L 1551.342157 439.407458 
L 1552.831373 436.574046 
L 1554.746078 432.422925 
L 1558.788235 422.871494 
L 1560.702941 418.704596 
L 1562.192157 415.980724 
L 1563.255882 414.425842 
L 1564.319608 413.262267 
L 1565.170588 412.642908 
L 1566.021569 412.316471 
L 1566.872549 412.289242 
L 1567.723529 412.559097 
L 1568.57451 413.115709 
L 1569.42549 413.941294 
L 1570.489216 415.314449 
L 1571.765686 417.386429 
L 1573.254902 420.249237 
L 1575.595098 425.314498 
L 1580.062745 435.083918 
L 1582.190196 439.142722 
L 1583.892157 441.934581 
L 1585.381373 443.991602 
L 1586.870588 445.659502 
L 1588.147059 446.769475 
L 1589.423529 447.586268 
L 1590.7 448.122637 
L 1591.976471 448.402446 
L 1593.252941 448.460166 
L 1594.529412 448.339049 
L 1599.422549 447.044 
L 1601.12451 446.895417 
L 1602.826471 446.972153 
L 1604.741176 447.290491 
L 1607.081373 447.91218 
L 1611.123529 449.268206 
L 1618.782353 451.835566 
L 1624.10098 453.401627 
L 1629.419608 454.718562 
L 1635.376471 455.911733 
L 1640.695098 456.749819 
L 1647.290196 457.519038 
L 1653.672549 458.032068 
L 1661.756863 458.427973 
L 1669.415686 458.599654 
L 1675.372549 458.649409 
L 1675.372549 458.649409 
" clip-path="url(#p2c98a660e4)" style="fill: none; stroke-dasharray: 20.942,9.056; stroke-dashoffset: 0; stroke: #ea0252; stroke-width: 5.66"/>
   </g>
   <g id="patch_43">
    <path d="M 1460.5 461.7 
L 1460.5 351 
" style="fill: none; stroke: #000000; stroke-width: 2.264; stroke-linejoin: miter; stroke-linecap: square"/>
   </g>
   <g id="patch_44">
    <path d="M 1677.5 461.7 
L 1677.5 351 
" style="fill: none; stroke: #000000; stroke-width: 2.264; stroke-linejoin: miter; stroke-linecap: square"/>
   </g>
   <g id="patch_45">
    <path d="M 1460.5 461.7 
L 1677.5 461.7 
" style="fill: none; stroke: #000000; stroke-width: 2.264; stroke-linejoin: miter; stroke-linecap: square"/>
   </g>
   <g id="patch_46">
    <path d="M 1460.5 351 
L 1677.5 351 
" style="fill: none; stroke: #000000; stroke-width: 2.264; stroke-linejoin: miter; stroke-linecap: square"/>
   </g>
   <g id="text_74">
    
    <g transform="translate(1515.6545 332.92)">
     <text>
      <tspan x="0" y="-0.21875" style="font-style: oblique; font-size: 28.3px; font-family: 'DejaVu Sans'">t</tspan>
      <tspan x="16.580322" y="-0.21875" style="font-size: 28.3px; font-family: 'DejaVu Sans'">=</tspan>
      <tspan x="45.754517" y="-0.21875" style="font-size: 28.3px; font-family: 'DejaVu Sans'">0</tspan>
      <tspan x="63.728027" y="-0.21875" style="font-size: 28.3px; font-family: 'DejaVu Sans'">.</tspan>
      <tspan x="70.457886" y="-0.21875" style="font-size: 28.3px; font-family: 'DejaVu Sans'">7</tspan>
      <tspan x="88.431396" y="-0.21875" style="font-size: 28.3px; font-family: 'DejaVu Sans'">9</tspan>
     </text>
    </g>
   </g>
  </g>
  <g id="axes_10">
   <g id="patch_47">
    <path d="M 1786.5 461.7 
L 2003.5 461.7 
L 2003.5 351 
L 1786.5 351 
z
" style="fill: #ffffff"/>
   </g>
   <g id="matplotlib.axis_19">
    <g id="xtick_32">
     <g id="line2d_70">
      <g>
       <use xlink:href="#mcf7a19c459" x="1788.627451" y="461.7" style="stroke: #000000; stroke-width: 2.264"/>
      </g>
     </g>
     <g id="text_75">
      <text style="font-size: 28.3px; font-family: 'DejaVu Sans', 'Bitstream Vera Sans', 'Computer Modern Sans Serif', 'Lucida Grande', 'Verdana', 'Geneva', 'Lucid', 'Arial', 'Helvetica', 'Avant Garde', sans-serif; text-anchor: middle" x="1788.627451" y="503.013578" transform="rotate(-0 1788.627451 503.013578)">−5</text>
     </g>
    </g>
    <g id="xtick_33">
     <g id="line2d_71">
      <g>
       <use xlink:href="#mcf7a19c459" x="1895" y="461.7" style="stroke: #000000; stroke-width: 2.264"/>
      </g>
     </g>
     <g id="text_76">
      <text style="font-size: 28.3px; font-family: 'DejaVu Sans', 'Bitstream Vera Sans', 'Computer Modern Sans Serif', 'Lucida Grande', 'Verdana', 'Geneva', 'Lucid', 'Arial', 'Helvetica', 'Avant Garde', sans-serif; text-anchor: middle" x="1895" y="503.013578" transform="rotate(-0 1895 503.013578)">0</text>
     </g>
    </g>
    <g id="xtick_34">
     <g id="line2d_72">
      <g>
       <use xlink:href="#mcf7a19c459" x="2001.372549" y="461.7" style="stroke: #000000; stroke-width: 2.264"/>
      </g>
     </g>
     <g id="text_77">
      <text style="font-size: 28.3px; font-family: 'DejaVu Sans', 'Bitstream Vera Sans', 'Computer Modern Sans Serif', 'Lucida Grande', 'Verdana', 'Geneva', 'Lucid', 'Arial', 'Helvetica', 'Avant Garde', sans-serif; text-anchor: middle" x="2001.372549" y="503.013578" transform="rotate(-0 2001.372549 503.013578)">5</text>
     </g>
    </g>
    <g id="text_78">
     
     <g transform="translate(1886.51 540.722672)">
      <text>
       <tspan x="0" y="-0.6875" style="font-style: oblique; font-size: 28.3px; font-family: 'DejaVu Sans'">x</tspan>
      </text>
     </g>
    </g>
   </g>
   <g id="matplotlib.axis_20">
    <g id="ytick_23">
     <g id="line2d_73">
      <g>
       <use xlink:href="#mf63c6ea9cd" x="1786.5" y="459.571154" style="stroke: #000000; stroke-width: 2.264"/>
      </g>
     </g>
     <g id="text_79">
      <text style="font-size: 28.3px; font-family: 'DejaVu Sans', 'Bitstream Vera Sans', 'Computer Modern Sans Serif', 'Lucida Grande', 'Verdana', 'Geneva', 'Lucid', 'Arial', 'Helvetica', 'Avant Garde', sans-serif; text-anchor: end" x="1766.69" y="470.322943" transform="rotate(-0 1766.69 470.322943)">0</text>
     </g>
    </g>
    <g id="ytick_24">
     <g id="line2d_74">
      <g>
       <use xlink:href="#mf63c6ea9cd" x="1786.5" y="353.128846" style="stroke: #000000; stroke-width: 2.264"/>
      </g>
     </g>
     <g id="text_80">
      <text style="font-size: 28.3px; font-family: 'DejaVu Sans', 'Bitstream Vera Sans', 'Computer Modern Sans Serif', 'Lucida Grande', 'Verdana', 'Geneva', 'Lucid', 'Arial', 'Helvetica', 'Avant Garde', sans-serif; text-anchor: end" x="1766.69" y="363.880635" transform="rotate(-0 1766.69 363.880635)">5</text>
     </g>
    </g>
    <g id="text_81">
     
     <g transform="translate(1730.572125 457.1485) rotate(-90)">
      <text>
       <tspan x="0" y="-0.609375" style="font-size: 28.3px; font-family: 'DejaVu Sans'">|</tspan>
       <tspan x="27.422363" y="-0.609375" style="font-size: 28.3px; font-family: 'DejaVu Sans'">(</tspan>
       <tspan x="55.161987" y="-0.609375" style="font-size: 28.3px; font-family: 'DejaVu Sans'">,</tspan>
       <tspan x="80.722168" y="-0.609375" style="font-size: 28.3px; font-family: 'DejaVu Sans'">)</tspan>
       <tspan x="91.74353" y="-0.609375" style="font-size: 28.3px; font-family: 'DejaVu Sans'">|</tspan>
       <tspan x="9.517822" y="-0.609375" style="font-style: oblique; font-size: 28.3px; font-family: 'DejaVu Sans'">u</tspan>
       <tspan x="38.443726" y="-0.609375" style="font-style: oblique; font-size: 28.3px; font-family: 'DejaVu Sans'">x</tspan>
       <tspan x="69.64563" y="-0.609375" style="font-style: oblique; font-size: 28.3px; font-family: 'DejaVu Sans'">t</tspan>
      </text>
     </g>
    </g>
   </g>
   <g id="line2d_75">
    <path d="M 1788.627451 458.603366 
L 1798.626471 458.485792 
L 1806.923529 458.187857 
L 1815.858824 457.58082 
L 1822.241176 456.902002 
L 1827.559804 456.11359 
L 1832.878431 455.126397 
L 1837.133333 454.144678 
L 1842.026471 452.788031 
L 1847.132353 451.135598 
L 1853.089216 448.958075 
L 1863.088235 445.255953 
L 1866.279412 444.379672 
L 1868.832353 443.90532 
L 1871.385294 443.674693 
L 1877.554902 443.341789 
L 1878.618627 442.968818 
L 1879.469608 442.473979 
L 1880.320588 441.744027 
L 1881.171569 440.726363 
L 1882.022549 439.364449 
L 1882.873529 437.61061 
L 1883.937255 434.817297 
L 1885.00098 431.314382 
L 1886.064706 427.091637 
L 1887.341176 421.131865 
L 1889.043137 412.011281 
L 1891.808824 396.993409 
L 1892.872549 392.535521 
L 1893.510784 390.56384 
L 1894.14902 389.233484 
L 1894.57451 388.738153 
L 1895 388.57054 
L 1895.42549 388.738153 
L 1895.85098 389.233484 
L 1896.276471 390.045297 
L 1896.914706 391.812047 
L 1897.765686 395.058694 
L 1898.829412 400.187249 
L 1900.956863 412.011281 
L 1902.871569 422.186916 
L 1904.360784 428.865892 
L 1905.637255 433.502891 
L 1906.70098 436.575438 
L 1907.764706 438.964315 
L 1908.615686 440.420153 
L 1909.466667 441.518558 
L 1910.317647 442.315801 
L 1911.381373 442.968818 
L 1912.445098 443.341789 
L 1913.721569 443.551988 
L 1915.84902 443.633975 
L 1919.678431 443.743357 
L 1922.018627 444.037834 
L 1924.571569 444.586775 
L 1927.762745 445.527283 
L 1931.379412 446.826715 
L 1943.718627 451.425277 
L 1949.25 453.16406 
L 1954.143137 454.462631 
L 1958.398039 455.382318 
L 1963.929412 456.355422 
L 1969.035294 457.059844 
L 1975.204902 457.672986 
L 1982.438235 458.152882 
L 1990.097059 458.455667 
L 2000.096078 458.600749 
L 2001.372549 458.603366 
L 2001.372549 458.603366 
" clip-path="url(#p86105e9a18)" style="fill: none; stroke: #2c5eb0; stroke-width: 5.66; stroke-linecap: square"/>
   </g>
   <g id="line2d_76">
    <path d="M 1788.627451 458.761595 
L 1799.690196 458.642541 
L 1808.2 458.355566 
L 1816.284314 457.874245 
L 1822.666667 457.292435 
L 1828.198039 456.588878 
L 1834.580392 455.547905 
L 1839.473529 454.513396 
L 1844.792157 453.169545 
L 1850.74902 451.427614 
L 1859.471569 448.8256 
L 1861.811765 448.389315 
L 1863.726471 448.246627 
L 1865.428431 448.330797 
L 1866.917647 448.630573 
L 1868.406863 449.17295 
L 1871.810784 450.635109 
L 1872.661765 450.642829 
L 1873.3 450.446254 
L 1873.938235 450.04413 
L 1874.576471 449.417796 
L 1875.427451 448.224567 
L 1876.278431 446.643256 
L 1877.342157 444.209012 
L 1878.831373 440.223876 
L 1881.809804 431.449386 
L 1888.830392 410.47217 
L 1890.106863 407.574416 
L 1891.170588 405.701232 
L 1892.021569 404.625178 
L 1892.659804 404.088989 
L 1893.298039 403.796573 
L 1893.936275 403.75315 
L 1894.57451 403.958821 
L 1895.212745 404.408572 
L 1896.063725 405.370215 
L 1896.914706 406.712579 
L 1897.978431 408.855314 
L 1899.254902 411.969261 
L 1901.169608 417.35773 
L 1910.530392 444.794416 
L 1911.594118 447.169617 
L 1912.445098 448.670335 
L 1913.296078 449.767093 
L 1914.147059 450.460938 
L 1914.998039 450.795082 
L 1915.84902 450.842357 
L 1916.912745 450.626837 
L 1918.614706 449.987626 
L 1921.167647 449.026299 
L 1923.082353 448.593887 
L 1924.997059 448.364586 
L 1926.911765 448.339378 
L 1928.826471 448.519304 
L 1930.953922 448.942136 
L 1934.145098 449.834944 
L 1946.697059 453.568902 
L 1952.015686 454.848751 
L 1957.334314 455.88959 
L 1963.503922 456.824186 
L 1969.248039 457.491179 
L 1976.055882 458.040321 
L 1984.140196 458.459959 
L 1992.437255 458.680943 
L 2001.372549 458.761595 
L 2001.372549 458.761595 
" clip-path="url(#p86105e9a18)" style="fill: none; stroke-dasharray: 20.942,9.056; stroke-dashoffset: 0; stroke: #ea0252; stroke-width: 5.66"/>
   </g>
   <g id="patch_48">
    <path d="M 1786.5 461.7 
L 1786.5 351 
" style="fill: none; stroke: #000000; stroke-width: 2.264; stroke-linejoin: miter; stroke-linecap: square"/>
   </g>
   <g id="patch_49">
    <path d="M 2003.5 461.7 
L 2003.5 351 
" style="fill: none; stroke: #000000; stroke-width: 2.264; stroke-linejoin: miter; stroke-linecap: square"/>
   </g>
   <g id="patch_50">
    <path d="M 1786.5 461.7 
L 2003.5 461.7 
" style="fill: none; stroke: #000000; stroke-width: 2.264; stroke-linejoin: miter; stroke-linecap: square"/>
   </g>
   <g id="patch_51">
    <path d="M 1786.5 351 
L 2003.5 351 
" style="fill: none; stroke: #000000; stroke-width: 2.264; stroke-linejoin: miter; stroke-linecap: square"/>
   </g>
   <g id="text_82">
    
    <g transform="translate(1840.5225 332.92)">
     <text>
      <tspan x="0" y="-0.21875" style="font-style: oblique; font-size: 28.3px; font-family: 'DejaVu Sans'">t</tspan>
      <tspan x="16.580322" y="-0.21875" style="font-size: 28.3px; font-family: 'DejaVu Sans'">=</tspan>
      <tspan x="45.754517" y="-0.21875" style="font-size: 28.3px; font-family: 'DejaVu Sans'">0</tspan>
      <tspan x="63.728027" y="-0.21875" style="font-size: 28.3px; font-family: 'DejaVu Sans'">.</tspan>
      <tspan x="72.707886" y="-0.21875" style="font-size: 28.3px; font-family: 'DejaVu Sans'">9</tspan>
      <tspan x="90.681396" y="-0.21875" style="font-size: 28.3px; font-family: 'DejaVu Sans'">8</tspan>
     </text>
    </g>
   </g>
  </g>
  <g id="line2d_77">
   <path d="M 299.1 586.8 
L 355.7 586.8 
" style="fill: none; stroke: #2c5eb0; stroke-width: 5.66; stroke-linecap: square"/>
  </g>
  <g id="line2d_78">
   <path d="M 510.7 586.8 
L 567.3 586.8 
" style="fill: none; stroke-dasharray: 20.942,9.056; stroke-dashoffset: 0; stroke: #ea0252; stroke-width: 5.66"/>
  </g>
  <g id="line2d_79">
   <path d="M 1354.4 586.8 
L 1411 586.8 
" style="fill: none; stroke: #2c5eb0; stroke-width: 5.66; stroke-linecap: square"/>
  </g>
  <g id="line2d_80">
   <path d="M 1566 586.8 
L 1622.6 586.8 
" style="fill: none; stroke-dasharray: 20.942,9.056; stroke-dashoffset: 0; stroke: #ea0252; stroke-width: 5.66"/>
  </g>
  <g id="text_83">
   <text style="font-size: 28.3px; font-family: 'DejaVu Sans', 'Bitstream Vera Sans', 'Computer Modern Sans Serif', 'Lucida Grande', 'Verdana', 'Geneva', 'Lucid', 'Arial', 'Helvetica', 'Avant Garde', sans-serif; text-anchor: start" x="377.14" y="596.751789" transform="rotate(-0 377.14 596.751789)">Exact</text>
  </g>
  <g id="text_84">
   <text style="font-size: 28.3px; font-family: 'DejaVu Sans', 'Bitstream Vera Sans', 'Computer Modern Sans Serif', 'Lucida Grande', 'Verdana', 'Geneva', 'Lucid', 'Arial', 'Helvetica', 'Avant Garde', sans-serif; text-anchor: start" x="588.74" y="596.751789" transform="rotate(-0 588.74 596.751789)">Prediction</text>
  </g>
  <g id="text_85">
   <text style="font-size: 28.3px; font-family: 'DejaVu Sans', 'Bitstream Vera Sans', 'Computer Modern Sans Serif', 'Lucida Grande', 'Verdana', 'Geneva', 'Lucid', 'Arial', 'Helvetica', 'Avant Garde', sans-serif; text-anchor: start" x="1432.44" y="596.751789" transform="rotate(-0 1432.44 596.751789)">Exact</text>
  </g>
  <g id="text_86">
   <text style="font-size: 28.3px; font-family: 'DejaVu Sans', 'Bitstream Vera Sans', 'Computer Modern Sans Serif', 'Lucida Grande', 'Verdana', 'Geneva', 'Lucid', 'Arial', 'Helvetica', 'Avant Garde', sans-serif; text-anchor: start" x="1644.04" y="596.751789" transform="rotate(-0 1644.04 596.751789)">Prediction</text>
  </g>
 </g>
 <defs>
  <clipPath id="pc7590ab230">
   <rect x="133.2" y="39.8" width="714.9" height="164.9"/>
  </clipPath>
  <clipPath id="pe97401016c">
   <rect x="79.4" y="351" width="217" height="110.7"/>
  </clipPath>
  <clipPath id="p5f6ac95cbe">
   <rect x="405.2" y="351" width="217" height="110.7"/>
  </clipPath>
  <clipPath id="p6a13ea9190">
   <rect x="731.2" y="351" width="217" height="110.7"/>
  </clipPath>
  <clipPath id="p50bc3a27e3">
   <rect x="1188.5" y="39.8" width="714.9" height="164.9"/>
  </clipPath>
  <clipPath id="p88f04b7178">
   <rect x="1134.7" y="351" width="217" height="110.7"/>
  </clipPath>
  <clipPath id="p2c98a660e4">
   <rect x="1460.5" y="351" width="217" height="110.7"/>
  </clipPath>
  <clipPath id="p86105e9a18">
   <rect x="1786.5" y="351" width="217" height="110.7"/>
  </clipPath>
 </defs>
<text x="284.04" y="667.60" font-family="'Liberation Sans', sans-serif" font-size="39.20" font-weight="bold">(a)</text><text x="342.16" y="667.60" font-family="'Liberation Serif', serif" font-size="39.20">Results for</text><text x="519.93" y="667.60" font-family="'Liberation Mono', monospace" font-size="31.00" textLength="92.66" lengthAdjust="spacingAndGlyphs" stroke="#fff" stroke-width="0.7">seed</text><text x="623.64" y="671.60" font-family="'Liberation Serif', serif" font-size="39.20" textLength="32.26" lengthAdjust="spacingAndGlyphs">=</text><text x="664.43" y="667.60" font-family="'Liberation Serif', serif" font-size="39.80" textLength="76.58" lengthAdjust="spacingAndGlyphs">1234</text><text x="1337.84" y="667.60" font-family="'Liberation Sans', sans-serif" font-size="39.20" font-weight="bold">(b)</text><text x="1398.56" y="667.60" font-family="'Liberation Serif', serif" font-size="39.20">Results for</text><text x="1576.33" y="667.60" font-family="'Liberation Mono', monospace" font-size="31.00" textLength="92.66" lengthAdjust="spacingAndGlyphs" stroke="#fff" stroke-width="0.7">seed</text><text x="1680.04" y="671.60" font-family="'Liberation Serif', serif" font-size="39.20" textLength="32.26" lengthAdjust="spacingAndGlyphs">=</text><text x="1720.83" y="667.60" font-family="'Liberation Serif', serif" font-size="39.80" textLength="76.58" lengthAdjust="spacingAndGlyphs">1236</text></svg>

</body></html>
